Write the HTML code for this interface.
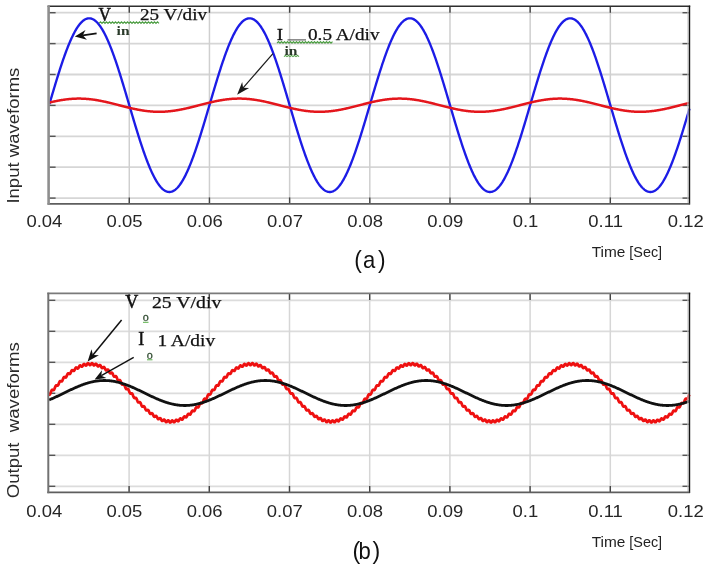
<!DOCTYPE html><html><head><meta charset="utf-8"><style>html,body{margin:0;padding:0;background:#fff;width:708px;height:570px;overflow:hidden}svg{display:block;filter:blur(0.3px)}</style></head><body>
<svg width="708" height="570" viewBox="0 0 708 570">
<rect width="708" height="570" fill="#fff"/>
<line x1="48.6" y1="12.7" x2="689.5" y2="12.7" stroke="#d6d6d6" stroke-width="1.8"/>
<line x1="48.6" y1="43.6" x2="689.5" y2="43.6" stroke="#d6d6d6" stroke-width="1.8"/>
<line x1="48.6" y1="74.5" x2="689.5" y2="74.5" stroke="#d6d6d6" stroke-width="1.8"/>
<line x1="48.6" y1="105.4" x2="689.5" y2="105.4" stroke="#d6d6d6" stroke-width="1.8"/>
<line x1="48.6" y1="136.3" x2="689.5" y2="136.3" stroke="#d6d6d6" stroke-width="1.8"/>
<line x1="48.6" y1="167.2" x2="689.5" y2="167.2" stroke="#d6d6d6" stroke-width="1.8"/>
<line x1="48.6" y1="198.1" x2="689.5" y2="198.1" stroke="#d6d6d6" stroke-width="1.8"/>
<line x1="129.28" y1="6.3" x2="129.28" y2="203.9" stroke="#cfcfcf" stroke-width="1.5"/>
<line x1="209.45" y1="6.3" x2="209.45" y2="203.9" stroke="#cfcfcf" stroke-width="1.5"/>
<line x1="289.62" y1="6.3" x2="289.62" y2="203.9" stroke="#cfcfcf" stroke-width="1.5"/>
<line x1="369.8" y1="6.3" x2="369.8" y2="203.9" stroke="#cfcfcf" stroke-width="1.5"/>
<line x1="449.98" y1="6.3" x2="449.98" y2="203.9" stroke="#cfcfcf" stroke-width="1.5"/>
<line x1="530.15" y1="6.3" x2="530.15" y2="203.9" stroke="#cfcfcf" stroke-width="1.5"/>
<line x1="610.33" y1="6.3" x2="610.33" y2="203.9" stroke="#cfcfcf" stroke-width="1.5"/>
<line x1="48.6" y1="12.7" x2="55.6" y2="12.7" stroke="#555" stroke-width="1.4"/>
<line x1="682.5" y1="12.7" x2="689.5" y2="12.7" stroke="#555" stroke-width="1.4"/>
<line x1="48.6" y1="43.6" x2="55.6" y2="43.6" stroke="#555" stroke-width="1.4"/>
<line x1="682.5" y1="43.6" x2="689.5" y2="43.6" stroke="#555" stroke-width="1.4"/>
<line x1="48.6" y1="74.5" x2="55.6" y2="74.5" stroke="#555" stroke-width="1.4"/>
<line x1="682.5" y1="74.5" x2="689.5" y2="74.5" stroke="#555" stroke-width="1.4"/>
<line x1="48.6" y1="105.4" x2="55.6" y2="105.4" stroke="#555" stroke-width="1.4"/>
<line x1="682.5" y1="105.4" x2="689.5" y2="105.4" stroke="#555" stroke-width="1.4"/>
<line x1="48.6" y1="136.3" x2="55.6" y2="136.3" stroke="#555" stroke-width="1.4"/>
<line x1="682.5" y1="136.3" x2="689.5" y2="136.3" stroke="#555" stroke-width="1.4"/>
<line x1="48.6" y1="167.2" x2="55.6" y2="167.2" stroke="#555" stroke-width="1.4"/>
<line x1="682.5" y1="167.2" x2="689.5" y2="167.2" stroke="#555" stroke-width="1.4"/>
<line x1="48.6" y1="198.1" x2="55.6" y2="198.1" stroke="#555" stroke-width="1.4"/>
<line x1="682.5" y1="198.1" x2="689.5" y2="198.1" stroke="#555" stroke-width="1.4"/>
<line x1="129.28" y1="197.4" x2="129.28" y2="203.9" stroke="#444" stroke-width="1.4"/>
<line x1="129.28" y1="6.3" x2="129.28" y2="12.8" stroke="#444" stroke-width="1.4"/>
<line x1="209.45" y1="197.4" x2="209.45" y2="203.9" stroke="#444" stroke-width="1.4"/>
<line x1="209.45" y1="6.3" x2="209.45" y2="12.8" stroke="#444" stroke-width="1.4"/>
<line x1="289.62" y1="197.4" x2="289.62" y2="203.9" stroke="#444" stroke-width="1.4"/>
<line x1="289.62" y1="6.3" x2="289.62" y2="12.8" stroke="#444" stroke-width="1.4"/>
<line x1="369.8" y1="197.4" x2="369.8" y2="203.9" stroke="#444" stroke-width="1.4"/>
<line x1="369.8" y1="6.3" x2="369.8" y2="12.8" stroke="#444" stroke-width="1.4"/>
<line x1="449.98" y1="197.4" x2="449.98" y2="203.9" stroke="#444" stroke-width="1.4"/>
<line x1="449.98" y1="6.3" x2="449.98" y2="12.8" stroke="#444" stroke-width="1.4"/>
<line x1="530.15" y1="197.4" x2="530.15" y2="203.9" stroke="#444" stroke-width="1.4"/>
<line x1="530.15" y1="6.3" x2="530.15" y2="12.8" stroke="#444" stroke-width="1.4"/>
<line x1="610.33" y1="197.4" x2="610.33" y2="203.9" stroke="#444" stroke-width="1.4"/>
<line x1="610.33" y1="6.3" x2="610.33" y2="12.8" stroke="#444" stroke-width="1.4"/>
<line x1="48.3" y1="300.3" x2="689.5" y2="300.3" stroke="#dcdcdc" stroke-width="1.8"/>
<line x1="48.3" y1="331.3" x2="689.5" y2="331.3" stroke="#dcdcdc" stroke-width="1.8"/>
<line x1="48.3" y1="362.3" x2="689.5" y2="362.3" stroke="#dcdcdc" stroke-width="1.8"/>
<line x1="48.3" y1="393.3" x2="689.5" y2="393.3" stroke="#dcdcdc" stroke-width="1.8"/>
<line x1="48.3" y1="424.3" x2="689.5" y2="424.3" stroke="#dcdcdc" stroke-width="1.8"/>
<line x1="48.3" y1="455.3" x2="689.5" y2="455.3" stroke="#dcdcdc" stroke-width="1.8"/>
<line x1="48.3" y1="486.3" x2="689.5" y2="486.3" stroke="#dcdcdc" stroke-width="1.8"/>
<line x1="129.1" y1="293.4" x2="129.1" y2="492.4" stroke="#d6d6d6" stroke-width="1.5"/>
<line x1="209.3" y1="293.4" x2="209.3" y2="492.4" stroke="#d6d6d6" stroke-width="1.5"/>
<line x1="289.5" y1="293.4" x2="289.5" y2="492.4" stroke="#d6d6d6" stroke-width="1.5"/>
<line x1="369.7" y1="293.4" x2="369.7" y2="492.4" stroke="#d6d6d6" stroke-width="1.5"/>
<line x1="449.9" y1="293.4" x2="449.9" y2="492.4" stroke="#d6d6d6" stroke-width="1.5"/>
<line x1="530.1" y1="293.4" x2="530.1" y2="492.4" stroke="#d6d6d6" stroke-width="1.5"/>
<line x1="610.3" y1="293.4" x2="610.3" y2="492.4" stroke="#d6d6d6" stroke-width="1.5"/>
<line x1="48.3" y1="300.3" x2="55.3" y2="300.3" stroke="#555" stroke-width="1.4"/>
<line x1="682.5" y1="300.3" x2="689.5" y2="300.3" stroke="#555" stroke-width="1.4"/>
<line x1="48.3" y1="331.3" x2="55.3" y2="331.3" stroke="#555" stroke-width="1.4"/>
<line x1="682.5" y1="331.3" x2="689.5" y2="331.3" stroke="#555" stroke-width="1.4"/>
<line x1="48.3" y1="362.3" x2="55.3" y2="362.3" stroke="#555" stroke-width="1.4"/>
<line x1="682.5" y1="362.3" x2="689.5" y2="362.3" stroke="#555" stroke-width="1.4"/>
<line x1="48.3" y1="393.3" x2="55.3" y2="393.3" stroke="#555" stroke-width="1.4"/>
<line x1="682.5" y1="393.3" x2="689.5" y2="393.3" stroke="#555" stroke-width="1.4"/>
<line x1="48.3" y1="424.3" x2="55.3" y2="424.3" stroke="#555" stroke-width="1.4"/>
<line x1="682.5" y1="424.3" x2="689.5" y2="424.3" stroke="#555" stroke-width="1.4"/>
<line x1="48.3" y1="455.3" x2="55.3" y2="455.3" stroke="#555" stroke-width="1.4"/>
<line x1="682.5" y1="455.3" x2="689.5" y2="455.3" stroke="#555" stroke-width="1.4"/>
<line x1="48.3" y1="486.3" x2="55.3" y2="486.3" stroke="#555" stroke-width="1.4"/>
<line x1="682.5" y1="486.3" x2="689.5" y2="486.3" stroke="#555" stroke-width="1.4"/>
<line x1="129.1" y1="485.9" x2="129.1" y2="492.4" stroke="#444" stroke-width="1.4"/>
<line x1="129.1" y1="293.4" x2="129.1" y2="299.9" stroke="#444" stroke-width="1.4"/>
<line x1="209.3" y1="485.9" x2="209.3" y2="492.4" stroke="#444" stroke-width="1.4"/>
<line x1="209.3" y1="293.4" x2="209.3" y2="299.9" stroke="#444" stroke-width="1.4"/>
<line x1="289.5" y1="485.9" x2="289.5" y2="492.4" stroke="#444" stroke-width="1.4"/>
<line x1="289.5" y1="293.4" x2="289.5" y2="299.9" stroke="#444" stroke-width="1.4"/>
<line x1="369.7" y1="485.9" x2="369.7" y2="492.4" stroke="#444" stroke-width="1.4"/>
<line x1="369.7" y1="293.4" x2="369.7" y2="299.9" stroke="#444" stroke-width="1.4"/>
<line x1="449.9" y1="485.9" x2="449.9" y2="492.4" stroke="#444" stroke-width="1.4"/>
<line x1="449.9" y1="293.4" x2="449.9" y2="299.9" stroke="#444" stroke-width="1.4"/>
<line x1="530.1" y1="485.9" x2="530.1" y2="492.4" stroke="#444" stroke-width="1.4"/>
<line x1="530.1" y1="293.4" x2="530.1" y2="299.9" stroke="#444" stroke-width="1.4"/>
<line x1="610.3" y1="485.9" x2="610.3" y2="492.4" stroke="#444" stroke-width="1.4"/>
<line x1="610.3" y1="293.4" x2="610.3" y2="299.9" stroke="#444" stroke-width="1.4"/>
<path d="M49.4 104.13 L49.9 102.43 L50.4 100.73 L50.9 99.03 L51.4 97.33 L51.9 95.64 L52.4 93.95 L52.9 92.27 L53.4 90.59 L53.9 88.91 L54.4 87.24 L54.9 85.58 L55.4 83.93 L55.9 82.28 L56.4 80.64 L56.9 79.02 L57.4 77.4 L57.9 75.79 L58.4 74.2 L58.9 72.61 L59.4 71.04 L59.9 69.48 L60.4 67.94 L60.9 66.41 L61.4 64.89 L61.9 63.39 L62.4 61.91 L62.9 60.44 L63.4 58.99 L63.9 57.56 L64.4 56.15 L64.9 54.75 L65.4 53.37 L65.9 52.02 L66.4 50.68 L66.9 49.37 L67.4 48.07 L67.9 46.8 L68.4 45.55 L68.9 44.33 L69.4 43.12 L69.9 41.95 L70.4 40.79 L70.9 39.66 L71.4 38.56 L71.9 37.48 L72.4 36.42 L72.9 35.4 L73.4 34.4 L73.9 33.42 L74.4 32.48 L74.9 31.56 L75.4 30.67 L75.9 29.81 L76.4 28.98 L76.9 28.17 L77.4 27.4 L77.9 26.66 L78.4 25.94 L78.9 25.26 L79.4 24.61 L79.9 23.99 L80.4 23.4 L80.9 22.84 L81.4 22.31 L81.9 21.82 L82.4 21.35 L82.9 20.92 L83.4 20.52 L83.9 20.16 L84.4 19.82 L84.9 19.52 L85.4 19.25 L85.9 19.02 L86.4 18.82 L86.9 18.65 L87.4 18.51 L87.9 18.41 L88.4 18.34 L88.9 18.31 L89.4 18.3 L89.9 18.33 L90.4 18.4 L90.9 18.5 L91.4 18.63 L91.9 18.79 L92.4 18.99 L92.9 19.22 L93.4 19.48 L93.9 19.78 L94.4 20.11 L94.9 20.47 L95.4 20.86 L95.9 21.29 L96.4 21.75 L96.9 22.24 L97.4 22.76 L97.9 23.31 L98.4 23.9 L98.9 24.51 L99.4 25.16 L99.9 25.84 L100.4 26.55 L100.9 27.29 L101.4 28.06 L101.9 28.85 L102.4 29.68 L102.9 30.54 L103.4 31.42 L103.9 32.34 L104.4 33.28 L104.9 34.25 L105.4 35.24 L105.9 36.27 L106.4 37.32 L106.9 38.39 L107.4 39.49 L107.9 40.62 L108.4 41.77 L108.9 42.95 L109.4 44.15 L109.9 45.37 L110.4 46.61 L110.9 47.88 L111.4 49.17 L111.9 50.48 L112.4 51.82 L112.9 53.17 L113.4 54.54 L113.9 55.93 L114.4 57.35 L114.9 58.78 L115.4 60.22 L115.9 61.69 L116.4 63.17 L116.9 64.67 L117.4 66.18 L117.9 67.71 L118.4 69.25 L118.9 70.81 L119.4 72.38 L119.9 73.96 L120.4 75.55 L120.9 77.16 L121.4 78.77 L121.9 80.4 L122.4 82.04 L122.9 83.68 L123.4 85.33 L123.9 86.99 L124.4 88.66 L124.9 90.33 L125.4 92.01 L125.9 93.7 L126.4 95.39 L126.9 97.08 L127.4 98.77 L127.9 100.47 L128.4 102.17 L128.9 103.87 L129.4 105.58 L129.9 107.28 L130.4 108.98 L130.9 110.68 L131.4 112.37 L131.9 114.07 L132.4 115.76 L132.9 117.44 L133.4 119.13 L133.9 120.8 L134.4 122.47 L134.9 124.14 L135.4 125.79 L135.9 127.44 L136.4 129.08 L136.9 130.71 L137.4 132.34 L137.9 133.95 L138.4 135.55 L138.9 137.13 L139.4 138.71 L139.9 140.27 L140.4 141.82 L140.9 143.36 L141.4 144.88 L141.9 146.38 L142.4 147.87 L142.9 149.35 L143.4 150.8 L143.9 152.24 L144.4 153.66 L144.9 155.06 L145.4 156.45 L145.9 157.81 L146.4 159.15 L146.9 160.47 L147.4 161.78 L147.9 163.06 L148.4 164.31 L148.9 165.55 L149.4 166.76 L149.9 167.94 L150.4 169.11 L150.9 170.25 L151.4 171.36 L151.9 172.45 L152.4 173.51 L152.9 174.55 L153.4 175.56 L153.9 176.54 L154.4 177.5 L154.9 178.42 L155.4 179.32 L155.9 180.19 L156.4 181.04 L156.9 181.85 L157.4 182.63 L157.9 183.39 L158.4 184.11 L158.9 184.8 L159.4 185.47 L159.9 186.1 L160.4 186.7 L160.9 187.27 L161.4 187.81 L161.9 188.31 L162.4 188.79 L162.9 189.23 L163.4 189.64 L163.9 190.02 L164.4 190.36 L164.9 190.68 L165.4 190.96 L165.9 191.2 L166.4 191.42 L166.9 191.6 L167.4 191.74 L167.9 191.86 L168.4 191.94 L168.9 191.99 L169.4 192 L169.9 191.98 L170.4 191.93 L170.9 191.84 L171.4 191.72 L171.9 191.57 L172.4 191.39 L172.9 191.17 L173.4 190.92 L173.9 190.63 L174.4 190.31 L174.9 189.96 L175.4 189.58 L175.9 189.17 L176.4 188.72 L176.9 188.24 L177.4 187.73 L177.9 187.19 L178.4 186.61 L178.9 186.01 L179.4 185.37 L179.9 184.7 L180.4 184 L180.9 183.27 L181.4 182.52 L181.9 181.73 L182.4 180.91 L182.9 180.06 L183.4 179.19 L183.9 178.29 L184.4 177.35 L184.9 176.39 L185.4 175.41 L185.9 174.39 L186.4 173.35 L186.9 172.29 L187.4 171.2 L187.9 170.08 L188.4 168.94 L188.9 167.77 L189.4 166.58 L189.9 165.36 L190.4 164.12 L190.9 162.86 L191.4 161.58 L191.9 160.28 L192.4 158.95 L192.9 157.61 L193.4 156.24 L193.9 154.85 L194.4 153.45 L194.9 152.03 L195.4 150.59 L195.9 149.13 L196.4 147.65 L196.9 146.16 L197.4 144.65 L197.9 143.13 L198.4 141.59 L198.9 140.04 L199.4 138.47 L199.9 136.9 L200.4 135.31 L200.9 133.71 L201.4 132.09 L201.9 130.47 L202.4 128.84 L202.9 127.2 L203.4 125.55 L203.9 123.89 L204.4 122.22 L204.9 120.55 L205.4 118.87 L205.9 117.19 L206.4 115.5 L206.9 113.81 L207.4 112.12 L207.9 110.42 L208.4 108.72 L208.9 107.02 L209.4 105.32 L209.9 103.62 L210.4 101.92 L210.9 100.22 L211.4 98.52 L211.9 96.83 L212.4 95.13 L212.9 93.44 L213.4 91.76 L213.9 90.08 L214.4 88.41 L214.9 86.74 L215.4 85.08 L215.9 83.43 L216.4 81.79 L216.9 80.16 L217.4 78.53 L217.9 76.92 L218.4 75.31 L218.9 73.72 L219.4 72.14 L219.9 70.57 L220.4 69.02 L220.9 67.48 L221.4 65.95 L221.9 64.44 L222.4 62.95 L222.9 61.47 L223.4 60.01 L223.9 58.56 L224.4 57.13 L224.9 55.72 L225.4 54.34 L225.9 52.97 L226.4 51.62 L226.9 50.29 L227.4 48.98 L227.9 47.69 L228.4 46.43 L228.9 45.18 L229.4 43.96 L229.9 42.77 L230.4 41.6 L230.9 40.45 L231.4 39.33 L231.9 38.23 L232.4 37.16 L232.9 36.11 L233.4 35.09 L233.9 34.1 L234.4 33.14 L234.9 32.2 L235.4 31.29 L235.9 30.41 L236.4 29.56 L236.9 28.73 L237.4 27.94 L237.9 27.17 L238.4 26.44 L238.9 25.74 L239.4 25.06 L239.9 24.42 L240.4 23.81 L240.9 23.23 L241.4 22.68 L241.9 22.16 L242.4 21.67 L242.9 21.22 L243.4 20.8 L243.9 20.41 L244.4 20.05 L244.9 19.73 L245.4 19.44 L245.9 19.18 L246.4 18.96 L246.9 18.76 L247.4 18.6 L247.9 18.48 L248.4 18.39 L248.9 18.33 L249.4 18.3 L249.9 18.31 L250.4 18.35 L250.9 18.42 L251.4 18.53 L251.9 18.67 L252.4 18.85 L252.9 19.05 L253.4 19.29 L253.9 19.57 L254.4 19.87 L254.9 20.21 L255.4 20.58 L255.9 20.99 L256.4 21.42 L256.9 21.89 L257.4 22.39 L257.9 22.92 L258.4 23.48 L258.9 24.08 L259.4 24.71 L259.9 25.36 L260.4 26.05 L260.9 26.77 L261.4 27.51 L261.9 28.29 L262.4 29.1 L262.9 29.94 L263.4 30.8 L263.9 31.69 L264.4 32.62 L264.9 33.57 L265.4 34.54 L265.9 35.55 L266.4 36.58 L266.9 37.64 L267.4 38.72 L267.9 39.83 L268.4 40.96 L268.9 42.12 L269.4 43.3 L269.9 44.51 L270.4 45.74 L270.9 46.99 L271.4 48.27 L271.9 49.56 L272.4 50.88 L272.9 52.22 L273.4 53.58 L273.9 54.96 L274.4 56.36 L274.9 57.77 L275.4 59.21 L275.9 60.66 L276.4 62.13 L276.9 63.62 L277.4 65.12 L277.9 66.64 L278.4 68.17 L278.9 69.72 L279.4 71.28 L279.9 72.85 L280.4 74.44 L280.9 76.03 L281.4 77.64 L281.9 79.26 L282.4 80.89 L282.9 82.53 L283.4 84.17 L283.9 85.83 L284.4 87.49 L284.9 89.16 L285.4 90.84 L285.9 92.52 L286.4 94.2 L286.9 95.89 L287.4 97.59 L287.9 99.28 L288.4 100.98 L288.9 102.68 L289.4 104.38 L289.9 106.09 L290.4 107.79 L290.9 109.49 L291.4 111.19 L291.9 112.88 L292.4 114.58 L292.9 116.26 L293.4 117.95 L293.9 119.63 L294.4 121.31 L294.9 122.97 L295.4 124.64 L295.9 126.29 L296.4 127.94 L296.9 129.57 L297.4 131.2 L297.9 132.82 L298.4 134.43 L298.9 136.02 L299.4 137.61 L299.9 139.18 L300.4 140.74 L300.9 142.28 L301.4 143.82 L301.9 145.33 L302.4 146.83 L302.9 148.32 L303.4 149.78 L303.9 151.24 L304.4 152.67 L304.9 154.08 L305.4 155.48 L305.9 156.86 L306.4 158.21 L306.9 159.55 L307.4 160.87 L307.9 162.16 L308.4 163.43 L308.9 164.68 L309.4 165.91 L309.9 167.12 L310.4 168.3 L310.9 169.45 L311.4 170.58 L311.9 171.69 L312.4 172.77 L312.9 173.83 L313.4 174.85 L313.9 175.86 L314.4 176.83 L314.9 177.78 L315.4 178.7 L315.9 179.59 L316.4 180.45 L316.9 181.28 L317.4 182.09 L317.9 182.86 L318.4 183.61 L318.9 184.32 L319.4 185.01 L319.9 185.66 L320.4 186.28 L320.9 186.87 L321.4 187.43 L321.9 187.96 L322.4 188.46 L322.9 188.92 L323.4 189.36 L323.9 189.76 L324.4 190.13 L324.9 190.46 L325.4 190.76 L325.9 191.03 L326.4 191.27 L326.9 191.47 L327.4 191.64 L327.9 191.78 L328.4 191.89 L328.9 191.96 L329.4 191.99 L329.9 192 L330.4 191.97 L330.9 191.91 L331.4 191.81 L331.9 191.68 L332.4 191.52 L332.9 191.32 L333.4 191.09 L333.9 190.83 L334.4 190.54 L334.9 190.21 L335.4 189.85 L335.9 189.46 L336.4 189.04 L336.9 188.58 L337.4 188.09 L337.9 187.57 L338.4 187.02 L338.9 186.43 L339.4 185.82 L339.9 185.17 L340.4 184.49 L340.9 183.79 L341.4 183.05 L341.9 182.28 L342.4 181.49 L342.9 180.66 L343.4 179.81 L343.9 178.92 L344.4 178.01 L344.9 177.07 L345.4 176.1 L345.9 175.11 L346.4 174.09 L346.9 173.04 L347.4 171.96 L347.9 170.86 L348.4 169.74 L348.9 168.59 L349.4 167.41 L349.9 166.22 L350.4 164.99 L350.9 163.75 L351.4 162.48 L351.9 161.19 L352.4 159.88 L352.9 158.55 L353.4 157.2 L353.9 155.83 L354.4 154.44 L354.9 153.02 L355.4 151.6 L355.9 150.15 L356.4 148.69 L356.9 147.2 L357.4 145.71 L357.9 144.2 L358.4 142.67 L358.9 141.13 L359.4 139.57 L359.9 138 L360.4 136.42 L360.9 134.83 L361.4 133.22 L361.9 131.61 L362.4 129.98 L362.9 128.35 L363.4 126.7 L363.9 125.05 L364.4 123.39 L364.9 121.72 L365.4 120.05 L365.9 118.37 L366.4 116.69 L366.9 115 L367.4 113.31 L367.9 111.61 L368.4 109.91 L368.9 108.21 L369.4 106.51 L369.9 104.81 L370.4 103.11 L370.9 101.41 L371.4 99.71 L371.9 98.01 L372.4 96.32 L372.9 94.63 L373.4 92.94 L373.9 91.26 L374.4 89.58 L374.9 87.91 L375.4 86.24 L375.9 84.59 L376.4 82.94 L376.9 81.3 L377.4 79.67 L377.9 78.04 L378.4 76.43 L378.9 74.83 L379.4 73.24 L379.9 71.67 L380.4 70.1 L380.9 68.55 L381.4 67.02 L381.9 65.5 L382.4 63.99 L382.9 62.5 L383.4 61.03 L383.9 59.57 L384.4 58.13 L384.9 56.71 L385.4 55.31 L385.9 53.92 L386.4 52.56 L386.9 51.21 L387.4 49.89 L387.9 48.59 L388.4 47.31 L388.9 46.05 L389.4 44.81 L389.9 43.6 L390.4 42.41 L390.9 41.25 L391.4 40.11 L391.9 38.99 L392.4 37.9 L392.9 36.84 L393.4 35.8 L393.9 34.79 L394.4 33.81 L394.9 32.85 L395.4 31.92 L395.9 31.02 L396.4 30.15 L396.9 29.31 L397.4 28.49 L397.9 27.71 L398.4 26.95 L398.9 26.23 L399.4 25.53 L399.9 24.87 L400.4 24.23 L400.9 23.63 L401.4 23.06 L401.9 22.52 L402.4 22.01 L402.9 21.54 L403.4 21.09 L403.9 20.68 L404.4 20.3 L404.9 19.95 L405.4 19.64 L405.9 19.36 L406.4 19.11 L406.9 18.89 L407.4 18.71 L407.9 18.56 L408.4 18.45 L408.9 18.37 L409.4 18.32 L409.9 18.3 L410.4 18.32 L410.9 18.37 L411.4 18.45 L411.9 18.57 L412.4 18.72 L412.9 18.9 L413.4 19.12 L413.9 19.37 L414.4 19.65 L414.9 19.97 L415.4 20.32 L415.9 20.7 L416.4 21.11 L416.9 21.56 L417.4 22.04 L417.9 22.55 L418.4 23.09 L418.9 23.66 L419.4 24.26 L419.9 24.9 L420.4 25.56 L420.9 26.26 L421.4 26.99 L421.9 27.74 L422.4 28.53 L422.9 29.35 L423.4 30.19 L423.9 31.07 L424.4 31.97 L424.9 32.9 L425.4 33.86 L425.9 34.84 L426.4 35.85 L426.9 36.89 L427.4 37.96 L427.9 39.05 L428.4 40.17 L428.9 41.31 L429.4 42.47 L429.9 43.66 L430.4 44.88 L430.9 46.11 L431.4 47.37 L431.9 48.65 L432.4 49.96 L432.9 51.28 L433.4 52.63 L433.9 53.99 L434.4 55.38 L434.9 56.78 L435.4 58.2 L435.9 59.64 L436.4 61.1 L436.9 62.58 L437.4 64.07 L437.9 65.57 L438.4 67.1 L438.9 68.63 L439.4 70.18 L439.9 71.75 L440.4 73.32 L440.9 74.91 L441.4 76.51 L441.9 78.13 L442.4 79.75 L442.9 81.38 L443.4 83.02 L443.9 84.67 L444.4 86.33 L444.9 87.99 L445.4 89.66 L445.9 91.34 L446.4 93.02 L446.9 94.71 L447.4 96.4 L447.9 98.1 L448.4 99.79 L448.9 101.49 L449.4 103.19 L449.9 104.89 L450.4 106.6 L450.9 108.3 L451.4 110 L451.9 111.69 L452.4 113.39 L452.9 115.08 L453.4 116.77 L453.9 118.45 L454.4 120.13 L454.9 121.81 L455.4 123.47 L455.9 125.13 L456.4 126.78 L456.9 128.43 L457.4 130.06 L457.9 131.69 L458.4 133.3 L458.9 134.91 L459.4 136.5 L459.9 138.08 L460.4 139.65 L460.9 141.2 L461.4 142.75 L461.9 144.27 L462.4 145.78 L462.9 147.28 L463.4 148.76 L463.9 150.22 L464.4 151.67 L464.9 153.1 L465.4 154.51 L465.9 155.9 L466.4 157.27 L466.9 158.62 L467.4 159.95 L467.9 161.26 L468.4 162.55 L468.9 163.81 L469.4 165.06 L469.9 166.28 L470.4 167.47 L470.9 168.65 L471.4 169.79 L471.9 170.92 L472.4 172.02 L472.9 173.09 L473.4 174.14 L473.9 175.16 L474.4 176.15 L474.9 177.12 L475.4 178.06 L475.9 178.97 L476.4 179.85 L476.9 180.7 L477.4 181.53 L477.9 182.32 L478.4 183.09 L478.9 183.82 L479.4 184.53 L479.9 185.2 L480.4 185.85 L480.9 186.46 L481.4 187.04 L481.9 187.6 L482.4 188.11 L482.9 188.6 L483.4 189.06 L483.9 189.48 L484.4 189.87 L484.9 190.23 L485.4 190.55 L485.9 190.85 L486.4 191.11 L486.9 191.33 L487.4 191.53 L487.9 191.69 L488.4 191.82 L488.9 191.91 L489.4 191.97 L489.9 192 L490.4 191.99 L490.9 191.95 L491.4 191.88 L491.9 191.77 L492.4 191.64 L492.9 191.46 L493.4 191.26 L493.9 191.02 L494.4 190.75 L494.9 190.44 L495.4 190.11 L495.9 189.74 L496.4 189.34 L496.9 188.9 L497.4 188.43 L497.9 187.94 L498.4 187.41 L498.9 186.84 L499.4 186.25 L499.9 185.63 L500.4 184.97 L500.9 184.29 L501.4 183.57 L501.9 182.82 L502.4 182.05 L502.9 181.24 L503.4 180.41 L503.9 179.54 L504.4 178.65 L504.9 177.73 L505.4 176.78 L505.9 175.81 L506.4 174.8 L506.9 173.77 L507.4 172.72 L507.9 171.64 L508.4 170.53 L508.9 169.4 L509.4 168.24 L509.9 167.06 L510.4 165.85 L510.9 164.62 L511.4 163.37 L511.9 162.1 L512.4 160.8 L512.9 159.49 L513.4 158.15 L513.9 156.79 L514.4 155.41 L514.9 154.01 L515.4 152.6 L515.9 151.16 L516.4 149.71 L516.9 148.24 L517.4 146.76 L517.9 145.26 L518.4 143.74 L518.9 142.21 L519.4 140.66 L519.9 139.1 L520.4 137.53 L520.9 135.94 L521.4 134.35 L521.9 132.74 L522.4 131.12 L522.9 129.49 L523.4 127.85 L523.9 126.21 L524.4 124.55 L524.9 122.89 L525.4 121.22 L525.9 119.55 L526.4 117.87 L526.9 116.18 L527.4 114.49 L527.9 112.8 L528.4 111.1 L528.9 109.4 L529.4 107.7 L529.9 106 L530.4 104.3 L530.9 102.6 L531.4 100.9 L531.9 99.2 L532.4 97.5 L532.9 95.81 L533.4 94.12 L533.9 92.43 L534.4 90.75 L534.9 89.08 L535.4 87.41 L535.9 85.75 L536.4 84.09 L536.9 82.45 L537.4 80.81 L537.9 79.18 L538.4 77.56 L538.9 75.95 L539.4 74.36 L539.9 72.77 L540.4 71.2 L540.9 69.64 L541.4 68.09 L541.9 66.56 L542.4 65.04 L542.9 63.54 L543.4 62.06 L543.9 60.59 L544.4 59.14 L544.9 57.7 L545.4 56.29 L545.9 54.89 L546.4 53.51 L546.9 52.15 L547.4 50.81 L547.9 49.5 L548.4 48.2 L548.9 46.93 L549.4 45.68 L549.9 44.45 L550.4 43.24 L550.9 42.06 L551.4 40.9 L551.9 39.77 L552.4 38.66 L552.9 37.58 L553.4 36.53 L553.9 35.5 L554.4 34.49 L554.9 33.52 L555.4 32.57 L555.9 31.65 L556.4 30.76 L556.9 29.89 L557.4 29.06 L557.9 28.25 L558.4 27.48 L558.9 26.73 L559.4 26.01 L559.9 25.33 L560.4 24.67 L560.9 24.05 L561.4 23.46 L561.9 22.89 L562.4 22.36 L562.9 21.87 L563.4 21.4 L563.9 20.96 L564.4 20.56 L564.9 20.19 L565.4 19.86 L565.9 19.55 L566.4 19.28 L566.9 19.04 L567.4 18.84 L567.9 18.66 L568.4 18.53 L568.9 18.42 L569.4 18.35 L569.9 18.31 L570.4 18.3 L570.9 18.33 L571.4 18.39 L571.9 18.48 L572.4 18.61 L572.9 18.77 L573.4 18.97 L573.9 19.19 L574.4 19.45 L574.9 19.75 L575.4 20.07 L575.9 20.43 L576.4 20.82 L576.9 21.24 L577.4 21.7 L577.9 22.19 L578.4 22.7 L578.9 23.26 L579.4 23.84 L579.9 24.45 L580.4 25.1 L580.9 25.77 L581.4 26.48 L581.9 27.21 L582.4 27.98 L582.9 28.77 L583.4 29.6 L583.9 30.45 L584.4 31.33 L584.9 32.24 L585.4 33.18 L585.9 34.15 L586.4 35.14 L586.9 36.16 L587.4 37.21 L587.9 38.28 L588.4 39.38 L588.9 40.51 L589.4 41.65 L589.9 42.83 L590.4 44.02 L590.9 45.24 L591.4 46.49 L591.9 47.75 L592.4 49.04 L592.9 50.35 L593.4 51.68 L593.9 53.03 L594.4 54.4 L594.9 55.79 L595.4 57.2 L595.9 58.63 L596.4 60.08 L596.9 61.54 L597.4 63.02 L597.9 64.52 L598.4 66.03 L598.9 67.55 L599.4 69.1 L599.9 70.65 L600.4 72.22 L600.9 73.8 L601.4 75.39 L601.9 77 L602.4 78.61 L602.9 80.24 L603.4 81.87 L603.9 83.52 L604.4 85.17 L604.9 86.83 L605.4 88.49 L605.9 90.17 L606.4 91.85 L606.9 93.53 L607.4 95.22 L607.9 96.91 L608.4 98.61 L608.9 100.3 L609.4 102 L609.9 103.7 L610.4 105.41 L610.9 107.11 L611.4 108.81 L611.9 110.51 L612.4 112.2 L612.9 113.9 L613.4 115.59 L613.9 117.28 L614.4 118.96 L614.9 120.64 L615.4 122.31 L615.9 123.97 L616.4 125.63 L616.9 127.28 L617.4 128.92 L617.9 130.55 L618.4 132.17 L618.9 133.79 L619.4 135.39 L619.9 136.98 L620.4 138.55 L620.9 140.12 L621.4 141.67 L621.9 143.2 L622.4 144.73 L622.9 146.23 L623.4 147.72 L623.9 149.2 L624.4 150.66 L624.9 152.1 L625.4 153.52 L625.9 154.92 L626.4 156.31 L626.9 157.67 L627.4 159.02 L627.9 160.34 L628.4 161.65 L628.9 162.93 L629.4 164.19 L629.9 165.42 L630.4 166.64 L630.9 167.83 L631.4 168.99 L631.9 170.13 L632.4 171.25 L632.9 172.34 L633.4 173.41 L633.9 174.45 L634.4 175.46 L634.9 176.44 L635.4 177.4 L635.9 178.33 L636.4 179.23 L636.9 180.11 L637.4 180.95 L637.9 181.77 L638.4 182.56 L638.9 183.31 L639.4 184.04 L639.9 184.74 L640.4 185.4 L640.9 186.04 L641.4 186.64 L641.9 187.21 L642.4 187.75 L642.9 188.26 L643.4 188.74 L643.9 189.19 L644.4 189.6 L644.9 189.98 L645.4 190.33 L645.9 190.65 L646.4 190.93 L646.9 191.18 L647.4 191.4 L647.9 191.58 L648.4 191.73 L648.9 191.85 L649.4 191.93 L649.9 191.98 L650.4 192 L650.9 191.98 L651.4 191.93 L651.9 191.85 L652.4 191.74 L652.9 191.59 L653.4 191.41 L653.9 191.19 L654.4 190.94 L654.9 190.66 L655.4 190.35 L655.9 190 L656.4 189.62 L656.9 189.21 L657.4 188.76 L657.9 188.29 L658.4 187.78 L658.9 187.24 L659.4 186.67 L659.9 186.07 L660.4 185.43 L660.9 184.77 L661.4 184.07 L661.9 183.35 L662.4 182.59 L662.9 181.81 L663.4 180.99 L663.9 180.15 L664.4 179.28 L664.9 178.38 L665.4 177.45 L665.9 176.49 L666.4 175.51 L666.9 174.5 L667.4 173.46 L667.9 172.4 L668.4 171.31 L668.9 170.19 L669.4 169.05 L669.9 167.89 L670.4 166.7 L670.9 165.49 L671.4 164.25 L671.9 162.99 L672.4 161.71 L672.9 160.41 L673.4 159.09 L673.9 157.74 L674.4 156.38 L674.9 154.99 L675.4 153.59 L675.9 152.17 L676.4 150.73 L676.9 149.27 L677.4 147.8 L677.9 146.31 L678.4 144.8 L678.9 143.28 L679.4 141.75 L679.9 140.2 L680.4 138.63 L680.9 137.06 L681.4 135.47 L681.9 133.87 L682.4 132.26 L682.9 130.63 L683.4 129 L683.9 127.36 L684.4 125.71 L684.9 124.06 L685.4 122.39 L685.9 120.72 L686.4 119.04 L686.9 117.36 L687.4 115.67 L687.9 113.98 L688.4 112.29 L688.9 110.59 L689.4 108.89 L689.5 108.55" fill="none" stroke="#1c1ce6" stroke-width="2.35" stroke-linejoin="round"/>
<path d="M49.4 102.55 L49.9 102.43 L50.4 102.32 L50.9 102.2 L51.4 102.08 L51.9 101.97 L52.4 101.86 L52.9 101.75 L53.4 101.64 L53.9 101.53 L54.4 101.42 L54.9 101.32 L55.4 101.21 L55.9 101.11 L56.4 101.01 L56.9 100.91 L57.4 100.82 L57.9 100.72 L58.4 100.63 L58.9 100.53 L59.4 100.44 L59.9 100.35 L60.4 100.27 L60.9 100.18 L61.4 100.1 L61.9 100.02 L62.4 99.94 L62.9 99.86 L63.4 99.79 L63.9 99.71 L64.4 99.64 L64.9 99.57 L65.4 99.51 L65.9 99.44 L66.4 99.38 L66.9 99.32 L67.4 99.26 L67.9 99.21 L68.4 99.16 L68.9 99.1 L69.4 99.06 L69.9 99.01 L70.4 98.97 L70.9 98.93 L71.4 98.89 L71.9 98.85 L72.4 98.82 L72.9 98.78 L73.4 98.76 L73.9 98.73 L74.4 98.7 L74.9 98.68 L75.4 98.66 L75.9 98.65 L76.4 98.63 L76.9 98.62 L77.4 98.61 L77.9 98.61 L78.4 98.6 L78.9 98.6 L79.4 98.6 L79.9 98.6 L80.4 98.61 L80.9 98.62 L81.4 98.63 L81.9 98.64 L82.4 98.66 L82.9 98.68 L83.4 98.7 L83.9 98.72 L84.4 98.75 L84.9 98.78 L85.4 98.81 L85.9 98.84 L86.4 98.88 L86.9 98.92 L87.4 98.96 L87.9 99 L88.4 99.05 L88.9 99.1 L89.4 99.15 L89.9 99.2 L90.4 99.25 L90.9 99.31 L91.4 99.37 L91.9 99.43 L92.4 99.5 L92.9 99.56 L93.4 99.63 L93.9 99.7 L94.4 99.77 L94.9 99.85 L95.4 99.93 L95.9 100 L96.4 100.08 L96.9 100.17 L97.4 100.25 L97.9 100.34 L98.4 100.43 L98.9 100.52 L99.4 100.61 L99.9 100.7 L100.4 100.8 L100.9 100.9 L101.4 100.99 L101.9 101.1 L102.4 101.2 L102.9 101.3 L103.4 101.41 L103.9 101.51 L104.4 101.62 L104.9 101.73 L105.4 101.84 L105.9 101.95 L106.4 102.07 L106.9 102.18 L107.4 102.3 L107.9 102.41 L108.4 102.53 L108.9 102.65 L109.4 102.77 L109.9 102.89 L110.4 103.01 L110.9 103.13 L111.4 103.26 L111.9 103.38 L112.4 103.5 L112.9 103.63 L113.4 103.76 L113.9 103.88 L114.4 104.01 L114.9 104.14 L115.4 104.26 L115.9 104.39 L116.4 104.52 L116.9 104.65 L117.4 104.78 L117.9 104.91 L118.4 105.04 L118.9 105.17 L119.4 105.3 L119.9 105.42 L120.4 105.55 L120.9 105.68 L121.4 105.81 L121.9 105.94 L122.4 106.07 L122.9 106.2 L123.4 106.32 L123.9 106.45 L124.4 106.58 L124.9 106.7 L125.4 106.83 L125.9 106.96 L126.4 107.08 L126.9 107.2 L127.4 107.33 L127.9 107.45 L128.4 107.57 L128.9 107.69 L129.4 107.81 L129.9 107.93 L130.4 108.04 L130.9 108.16 L131.4 108.28 L131.9 108.39 L132.4 108.5 L132.9 108.61 L133.4 108.72 L133.9 108.83 L134.4 108.94 L134.9 109.04 L135.4 109.15 L135.9 109.25 L136.4 109.35 L136.9 109.45 L137.4 109.55 L137.9 109.65 L138.4 109.74 L138.9 109.83 L139.4 109.93 L139.9 110.02 L140.4 110.1 L140.9 110.19 L141.4 110.27 L141.9 110.35 L142.4 110.43 L142.9 110.51 L143.4 110.59 L143.9 110.66 L144.4 110.73 L144.9 110.8 L145.4 110.87 L145.9 110.93 L146.4 111 L146.9 111.06 L147.4 111.12 L147.9 111.17 L148.4 111.23 L148.9 111.28 L149.4 111.33 L149.9 111.37 L150.4 111.42 L150.9 111.46 L151.4 111.5 L151.9 111.54 L152.4 111.57 L152.9 111.61 L153.4 111.64 L153.9 111.66 L154.4 111.69 L154.9 111.71 L155.4 111.73 L155.9 111.75 L156.4 111.76 L156.9 111.78 L157.4 111.79 L157.9 111.79 L158.4 111.8 L158.9 111.8 L159.4 111.8 L159.9 111.8 L160.4 111.79 L160.9 111.78 L161.4 111.77 L161.9 111.76 L162.4 111.75 L162.9 111.73 L163.4 111.71 L163.9 111.68 L164.4 111.66 L164.9 111.63 L165.4 111.6 L165.9 111.57 L166.4 111.53 L166.9 111.5 L167.4 111.46 L167.9 111.41 L168.4 111.37 L168.9 111.32 L169.4 111.27 L169.9 111.22 L170.4 111.17 L170.9 111.11 L171.4 111.05 L171.9 110.99 L172.4 110.93 L172.9 110.86 L173.4 110.79 L173.9 110.72 L174.4 110.65 L174.9 110.58 L175.4 110.5 L175.9 110.42 L176.4 110.34 L176.9 110.26 L177.4 110.18 L177.9 110.09 L178.4 110 L178.9 109.91 L179.4 109.82 L179.9 109.73 L180.4 109.64 L180.9 109.54 L181.4 109.44 L181.9 109.34 L182.4 109.24 L182.9 109.14 L183.4 109.03 L183.9 108.93 L184.4 108.82 L184.9 108.71 L185.4 108.6 L185.9 108.49 L186.4 108.37 L186.9 108.26 L187.4 108.15 L187.9 108.03 L188.4 107.91 L188.9 107.79 L189.4 107.67 L189.9 107.55 L190.4 107.43 L190.9 107.31 L191.4 107.19 L191.9 107.06 L192.4 106.94 L192.9 106.81 L193.4 106.69 L193.9 106.56 L194.4 106.44 L194.9 106.31 L195.4 106.18 L195.9 106.05 L196.4 105.92 L196.9 105.8 L197.4 105.67 L197.9 105.54 L198.4 105.41 L198.9 105.28 L199.4 105.15 L199.9 105.02 L200.4 104.89 L200.9 104.76 L201.4 104.63 L201.9 104.5 L202.4 104.38 L202.9 104.25 L203.4 104.12 L203.9 103.99 L204.4 103.87 L204.9 103.74 L205.4 103.61 L205.9 103.49 L206.4 103.36 L206.9 103.24 L207.4 103.12 L207.9 102.99 L208.4 102.87 L208.9 102.75 L209.4 102.63 L209.9 102.51 L210.4 102.4 L210.9 102.28 L211.4 102.16 L211.9 102.05 L212.4 101.94 L212.9 101.83 L213.4 101.72 L213.9 101.61 L214.4 101.5 L214.9 101.39 L215.4 101.29 L215.9 101.18 L216.4 101.08 L216.9 100.98 L217.4 100.88 L217.9 100.79 L218.4 100.69 L218.9 100.6 L219.4 100.51 L219.9 100.42 L220.4 100.33 L220.9 100.24 L221.4 100.16 L221.9 100.07 L222.4 99.99 L222.9 99.92 L223.4 99.84 L223.9 99.76 L224.4 99.69 L224.9 99.62 L225.4 99.55 L225.9 99.49 L226.4 99.42 L226.9 99.36 L227.4 99.3 L227.9 99.25 L228.4 99.19 L228.9 99.14 L229.4 99.09 L229.9 99.04 L230.4 99 L230.9 98.95 L231.4 98.91 L231.9 98.87 L232.4 98.84 L232.9 98.81 L233.4 98.78 L233.9 98.75 L234.4 98.72 L234.9 98.7 L235.4 98.68 L235.9 98.66 L236.4 98.64 L236.9 98.63 L237.4 98.62 L237.9 98.61 L238.4 98.6 L238.9 98.6 L239.4 98.6 L239.9 98.6 L240.4 98.61 L240.9 98.61 L241.4 98.62 L241.9 98.63 L242.4 98.65 L242.9 98.67 L243.4 98.69 L243.9 98.71 L244.4 98.73 L244.9 98.76 L245.4 98.79 L245.9 98.82 L246.4 98.85 L246.9 98.89 L247.4 98.93 L247.9 98.97 L248.4 99.02 L248.9 99.06 L249.4 99.11 L249.9 99.16 L250.4 99.22 L250.9 99.27 L251.4 99.33 L251.9 99.39 L252.4 99.45 L252.9 99.52 L253.4 99.58 L253.9 99.65 L254.4 99.72 L254.9 99.8 L255.4 99.87 L255.9 99.95 L256.4 100.03 L256.9 100.11 L257.4 100.19 L257.9 100.28 L258.4 100.36 L258.9 100.45 L259.4 100.54 L259.9 100.64 L260.4 100.73 L260.9 100.83 L261.4 100.93 L261.9 101.02 L262.4 101.13 L262.9 101.23 L263.4 101.33 L263.9 101.44 L264.4 101.54 L264.9 101.65 L265.4 101.76 L265.9 101.87 L266.4 101.99 L266.9 102.1 L267.4 102.21 L267.9 102.33 L268.4 102.45 L268.9 102.57 L269.4 102.68 L269.9 102.8 L270.4 102.93 L270.9 103.05 L271.4 103.17 L271.9 103.29 L272.4 103.42 L272.9 103.54 L273.4 103.67 L273.9 103.79 L274.4 103.92 L274.9 104.05 L275.4 104.17 L275.9 104.3 L276.4 104.43 L276.9 104.56 L277.4 104.69 L277.9 104.82 L278.4 104.95 L278.9 105.08 L279.4 105.21 L279.9 105.33 L280.4 105.46 L280.9 105.59 L281.4 105.72 L281.9 105.85 L282.4 105.98 L282.9 106.11 L283.4 106.24 L283.9 106.36 L284.4 106.49 L284.9 106.62 L285.4 106.74 L285.9 106.87 L286.4 106.99 L286.9 107.12 L287.4 107.24 L287.9 107.36 L288.4 107.48 L288.9 107.61 L289.4 107.73 L289.9 107.84 L290.4 107.96 L290.9 108.08 L291.4 108.19 L291.9 108.31 L292.4 108.42 L292.9 108.54 L293.4 108.65 L293.9 108.76 L294.4 108.86 L294.9 108.97 L295.4 109.08 L295.9 109.18 L296.4 109.28 L296.9 109.38 L297.4 109.48 L297.9 109.58 L298.4 109.68 L298.9 109.77 L299.4 109.86 L299.9 109.95 L300.4 110.04 L300.9 110.13 L301.4 110.21 L301.9 110.3 L302.4 110.38 L302.9 110.46 L303.4 110.53 L303.9 110.61 L304.4 110.68 L304.9 110.75 L305.4 110.82 L305.9 110.89 L306.4 110.95 L306.9 111.02 L307.4 111.08 L307.9 111.13 L308.4 111.19 L308.9 111.24 L309.4 111.29 L309.9 111.34 L310.4 111.39 L310.9 111.43 L311.4 111.47 L311.9 111.51 L312.4 111.55 L312.9 111.58 L313.4 111.61 L313.9 111.64 L314.4 111.67 L314.9 111.69 L315.4 111.72 L315.9 111.74 L316.4 111.75 L316.9 111.77 L317.4 111.78 L317.9 111.79 L318.4 111.79 L318.9 111.8 L319.4 111.8 L319.9 111.8 L320.4 111.8 L320.9 111.79 L321.4 111.78 L321.9 111.77 L322.4 111.76 L322.9 111.74 L323.4 111.72 L323.9 111.7 L324.4 111.68 L324.9 111.65 L325.4 111.62 L325.9 111.59 L326.4 111.56 L326.9 111.52 L327.4 111.48 L327.9 111.44 L328.4 111.4 L328.9 111.35 L329.4 111.31 L329.9 111.26 L330.4 111.2 L330.9 111.15 L331.4 111.09 L331.9 111.03 L332.4 110.97 L332.9 110.91 L333.4 110.84 L333.9 110.77 L334.4 110.7 L334.9 110.63 L335.4 110.56 L335.9 110.48 L336.4 110.4 L336.9 110.32 L337.4 110.24 L337.9 110.15 L338.4 110.07 L338.9 109.98 L339.4 109.89 L339.9 109.8 L340.4 109.7 L340.9 109.61 L341.4 109.51 L341.9 109.41 L342.4 109.31 L342.9 109.21 L343.4 109.1 L343.9 109 L344.4 108.89 L344.9 108.79 L345.4 108.68 L345.9 108.57 L346.4 108.45 L346.9 108.34 L347.4 108.23 L347.9 108.11 L348.4 107.99 L348.9 107.88 L349.4 107.76 L349.9 107.64 L350.4 107.52 L350.9 107.4 L351.4 107.27 L351.9 107.15 L352.4 107.03 L352.9 106.9 L353.4 106.78 L353.9 106.65 L354.4 106.52 L354.9 106.4 L355.4 106.27 L355.9 106.14 L356.4 106.01 L356.9 105.89 L357.4 105.76 L357.9 105.63 L358.4 105.5 L358.9 105.37 L359.4 105.24 L359.9 105.11 L360.4 104.98 L360.9 104.85 L361.4 104.72 L361.9 104.59 L362.4 104.47 L362.9 104.34 L363.4 104.21 L363.9 104.08 L364.4 103.95 L364.9 103.83 L365.4 103.7 L365.9 103.58 L366.4 103.45 L366.9 103.33 L367.4 103.2 L367.9 103.08 L368.4 102.96 L368.9 102.84 L369.4 102.72 L369.9 102.6 L370.4 102.48 L370.9 102.36 L371.4 102.25 L371.9 102.13 L372.4 102.02 L372.9 101.9 L373.4 101.79 L373.9 101.68 L374.4 101.57 L374.9 101.47 L375.4 101.36 L375.9 101.26 L376.4 101.15 L376.9 101.05 L377.4 100.95 L377.9 100.85 L378.4 100.76 L378.9 100.66 L379.4 100.57 L379.9 100.48 L380.4 100.39 L380.9 100.3 L381.4 100.22 L381.9 100.13 L382.4 100.05 L382.9 99.97 L383.4 99.89 L383.9 99.82 L384.4 99.74 L384.9 99.67 L385.4 99.6 L385.9 99.53 L386.4 99.47 L386.9 99.41 L387.4 99.35 L387.9 99.29 L388.4 99.23 L388.9 99.18 L389.4 99.12 L389.9 99.08 L390.4 99.03 L390.9 98.98 L391.4 98.94 L391.9 98.9 L392.4 98.86 L392.9 98.83 L393.4 98.8 L393.9 98.77 L394.4 98.74 L394.9 98.71 L395.4 98.69 L395.9 98.67 L396.4 98.65 L396.9 98.64 L397.4 98.63 L397.9 98.62 L398.4 98.61 L398.9 98.6 L399.4 98.6 L399.9 98.6 L400.4 98.6 L400.9 98.61 L401.4 98.62 L401.9 98.63 L402.4 98.64 L402.9 98.65 L403.4 98.67 L403.9 98.69 L404.4 98.71 L404.9 98.74 L405.4 98.77 L405.9 98.8 L406.4 98.83 L406.9 98.87 L407.4 98.9 L407.9 98.94 L408.4 98.98 L408.9 99.03 L409.4 99.08 L409.9 99.13 L410.4 99.18 L410.9 99.23 L411.4 99.29 L411.9 99.35 L412.4 99.41 L412.9 99.47 L413.4 99.54 L413.9 99.6 L414.4 99.67 L414.9 99.74 L415.4 99.82 L415.9 99.89 L416.4 99.97 L416.9 100.05 L417.4 100.13 L417.9 100.22 L418.4 100.3 L418.9 100.39 L419.4 100.48 L419.9 100.57 L420.4 100.67 L420.9 100.76 L421.4 100.86 L421.9 100.95 L422.4 101.05 L422.9 101.16 L423.4 101.26 L423.9 101.36 L424.4 101.47 L424.9 101.58 L425.4 101.69 L425.9 101.8 L426.4 101.91 L426.9 102.02 L427.4 102.13 L427.9 102.25 L428.4 102.37 L428.9 102.48 L429.4 102.6 L429.9 102.72 L430.4 102.84 L430.9 102.96 L431.4 103.08 L431.9 103.21 L432.4 103.33 L432.9 103.45 L433.4 103.58 L433.9 103.71 L434.4 103.83 L434.9 103.96 L435.4 104.09 L435.9 104.21 L436.4 104.34 L436.9 104.47 L437.4 104.6 L437.9 104.73 L438.4 104.86 L438.9 104.99 L439.4 105.11 L439.9 105.24 L440.4 105.37 L440.9 105.5 L441.4 105.63 L441.9 105.76 L442.4 105.89 L442.9 106.02 L443.4 106.15 L443.9 106.27 L444.4 106.4 L444.9 106.53 L445.4 106.65 L445.9 106.78 L446.4 106.91 L446.9 107.03 L447.4 107.15 L447.9 107.28 L448.4 107.4 L448.9 107.52 L449.4 107.64 L449.9 107.76 L450.4 107.88 L450.9 108 L451.4 108.11 L451.9 108.23 L452.4 108.34 L452.9 108.46 L453.4 108.57 L453.9 108.68 L454.4 108.79 L454.9 108.9 L455.4 109 L455.9 109.11 L456.4 109.21 L456.9 109.31 L457.4 109.41 L457.9 109.51 L458.4 109.61 L458.9 109.7 L459.4 109.8 L459.9 109.89 L460.4 109.98 L460.9 110.07 L461.4 110.15 L461.9 110.24 L462.4 110.32 L462.9 110.4 L463.4 110.48 L463.9 110.56 L464.4 110.63 L464.9 110.7 L465.4 110.77 L465.9 110.84 L466.4 110.91 L466.9 110.97 L467.4 111.03 L467.9 111.09 L468.4 111.15 L468.9 111.21 L469.4 111.26 L469.9 111.31 L470.4 111.36 L470.9 111.4 L471.4 111.44 L471.9 111.48 L472.4 111.52 L472.9 111.56 L473.4 111.59 L473.9 111.62 L474.4 111.65 L474.9 111.68 L475.4 111.7 L475.9 111.72 L476.4 111.74 L476.9 111.76 L477.4 111.77 L477.9 111.78 L478.4 111.79 L478.9 111.8 L479.4 111.8 L479.9 111.8 L480.4 111.8 L480.9 111.79 L481.4 111.79 L481.9 111.78 L482.4 111.77 L482.9 111.75 L483.4 111.74 L483.9 111.72 L484.4 111.69 L484.9 111.67 L485.4 111.64 L485.9 111.61 L486.4 111.58 L486.9 111.55 L487.4 111.51 L487.9 111.47 L488.4 111.43 L488.9 111.39 L489.4 111.34 L489.9 111.29 L490.4 111.24 L490.9 111.19 L491.4 111.13 L491.9 111.07 L492.4 111.01 L492.9 110.95 L493.4 110.89 L493.9 110.82 L494.4 110.75 L494.9 110.68 L495.4 110.61 L495.9 110.53 L496.4 110.46 L496.9 110.38 L497.4 110.29 L497.9 110.21 L498.4 110.13 L498.9 110.04 L499.4 109.95 L499.9 109.86 L500.4 109.77 L500.9 109.67 L501.4 109.58 L501.9 109.48 L502.4 109.38 L502.9 109.28 L503.4 109.18 L503.9 109.07 L504.4 108.97 L504.9 108.86 L505.4 108.75 L505.9 108.64 L506.4 108.53 L506.9 108.42 L507.4 108.31 L507.9 108.19 L508.4 108.08 L508.9 107.96 L509.4 107.84 L509.9 107.72 L510.4 107.6 L510.9 107.48 L511.4 107.36 L511.9 107.24 L512.4 107.11 L512.9 106.99 L513.4 106.86 L513.9 106.74 L514.4 106.61 L514.9 106.49 L515.4 106.36 L515.9 106.23 L516.4 106.1 L516.9 105.98 L517.4 105.85 L517.9 105.72 L518.4 105.59 L518.9 105.46 L519.4 105.33 L519.9 105.2 L520.4 105.07 L520.9 104.94 L521.4 104.81 L521.9 104.68 L522.4 104.56 L522.9 104.43 L523.4 104.3 L523.9 104.17 L524.4 104.04 L524.9 103.92 L525.4 103.79 L525.9 103.66 L526.4 103.54 L526.9 103.41 L527.4 103.29 L527.9 103.17 L528.4 103.04 L528.9 102.92 L529.4 102.8 L529.9 102.68 L530.4 102.56 L530.9 102.44 L531.4 102.33 L531.9 102.21 L532.4 102.1 L532.9 101.98 L533.4 101.87 L533.9 101.76 L534.4 101.65 L534.9 101.54 L535.4 101.43 L535.9 101.33 L536.4 101.23 L536.9 101.12 L537.4 101.02 L537.9 100.92 L538.4 100.82 L538.9 100.73 L539.4 100.63 L539.9 100.54 L540.4 100.45 L540.9 100.36 L541.4 100.28 L541.9 100.19 L542.4 100.11 L542.9 100.03 L543.4 99.95 L543.9 99.87 L544.4 99.79 L544.9 99.72 L545.4 99.65 L545.9 99.58 L546.4 99.51 L546.9 99.45 L547.4 99.39 L547.9 99.33 L548.4 99.27 L548.9 99.21 L549.4 99.16 L549.9 99.11 L550.4 99.06 L550.9 99.01 L551.4 98.97 L551.9 98.93 L552.4 98.89 L552.9 98.85 L553.4 98.82 L553.9 98.79 L554.4 98.76 L554.9 98.73 L555.4 98.71 L555.9 98.68 L556.4 98.67 L556.9 98.65 L557.4 98.63 L557.9 98.62 L558.4 98.61 L558.9 98.61 L559.4 98.6 L559.9 98.6 L560.4 98.6 L560.9 98.6 L561.4 98.61 L561.9 98.62 L562.4 98.63 L562.9 98.64 L563.4 98.66 L563.9 98.68 L564.4 98.7 L564.9 98.72 L565.4 98.75 L565.9 98.78 L566.4 98.81 L566.9 98.84 L567.4 98.88 L567.9 98.91 L568.4 98.95 L568.9 99 L569.4 99.04 L569.9 99.09 L570.4 99.14 L570.9 99.19 L571.4 99.25 L571.9 99.31 L572.4 99.36 L572.9 99.43 L573.4 99.49 L573.9 99.56 L574.4 99.62 L574.9 99.69 L575.4 99.77 L575.9 99.84 L576.4 99.92 L576.9 100 L577.4 100.08 L577.9 100.16 L578.4 100.24 L578.9 100.33 L579.4 100.42 L579.9 100.51 L580.4 100.6 L580.9 100.69 L581.4 100.79 L581.9 100.89 L582.4 100.98 L582.9 101.08 L583.4 101.19 L583.9 101.29 L584.4 101.4 L584.9 101.5 L585.4 101.61 L585.9 101.72 L586.4 101.83 L586.9 101.94 L587.4 102.05 L587.9 102.17 L588.4 102.28 L588.9 102.4 L589.4 102.52 L589.9 102.64 L590.4 102.76 L590.9 102.88 L591.4 103 L591.9 103.12 L592.4 103.24 L592.9 103.37 L593.4 103.49 L593.9 103.62 L594.4 103.74 L594.9 103.87 L595.4 104 L595.9 104.12 L596.4 104.25 L596.9 104.38 L597.4 104.51 L597.9 104.64 L598.4 104.77 L598.9 104.89 L599.4 105.02 L599.9 105.15 L600.4 105.28 L600.9 105.41 L601.4 105.54 L601.9 105.67 L602.4 105.8 L602.9 105.93 L603.4 106.06 L603.9 106.18 L604.4 106.31 L604.9 106.44 L605.4 106.57 L605.9 106.69 L606.4 106.82 L606.9 106.94 L607.4 107.07 L607.9 107.19 L608.4 107.31 L608.9 107.44 L609.4 107.56 L609.9 107.68 L610.4 107.8 L610.9 107.92 L611.4 108.03 L611.9 108.15 L612.4 108.26 L612.9 108.38 L613.4 108.49 L613.9 108.6 L614.4 108.71 L614.9 108.82 L615.4 108.93 L615.9 109.03 L616.4 109.14 L616.9 109.24 L617.4 109.34 L617.9 109.44 L618.4 109.54 L618.9 109.64 L619.4 109.73 L619.9 109.83 L620.4 109.92 L620.9 110.01 L621.4 110.09 L621.9 110.18 L622.4 110.26 L622.9 110.35 L623.4 110.43 L623.9 110.5 L624.4 110.58 L624.9 110.65 L625.4 110.73 L625.9 110.8 L626.4 110.86 L626.9 110.93 L627.4 110.99 L627.9 111.05 L628.4 111.11 L628.9 111.17 L629.4 111.22 L629.9 111.27 L630.4 111.32 L630.9 111.37 L631.4 111.41 L631.9 111.46 L632.4 111.5 L632.9 111.53 L633.4 111.57 L633.9 111.6 L634.4 111.63 L634.9 111.66 L635.4 111.69 L635.9 111.71 L636.4 111.73 L636.9 111.75 L637.4 111.76 L637.9 111.77 L638.4 111.78 L638.9 111.79 L639.4 111.8 L639.9 111.8 L640.4 111.8 L640.9 111.8 L641.4 111.79 L641.9 111.78 L642.4 111.77 L642.9 111.76 L643.4 111.75 L643.9 111.73 L644.4 111.71 L644.9 111.69 L645.4 111.66 L645.9 111.63 L646.4 111.6 L646.9 111.57 L647.4 111.54 L647.9 111.5 L648.4 111.46 L648.9 111.42 L649.4 111.37 L649.9 111.33 L650.4 111.28 L650.9 111.22 L651.4 111.17 L651.9 111.11 L652.4 111.06 L652.9 111 L653.4 110.93 L653.9 110.87 L654.4 110.8 L654.9 110.73 L655.4 110.66 L655.9 110.59 L656.4 110.51 L656.9 110.43 L657.4 110.35 L657.9 110.27 L658.4 110.19 L658.9 110.1 L659.4 110.01 L659.9 109.92 L660.4 109.83 L660.9 109.74 L661.4 109.64 L661.9 109.55 L662.4 109.45 L662.9 109.35 L663.4 109.25 L663.9 109.15 L664.4 109.04 L664.9 108.94 L665.4 108.83 L665.9 108.72 L666.4 108.61 L666.9 108.5 L667.4 108.39 L667.9 108.27 L668.4 108.16 L668.9 108.04 L669.4 107.92 L669.9 107.81 L670.4 107.69 L670.9 107.57 L671.4 107.44 L671.9 107.32 L672.4 107.2 L672.9 107.08 L673.4 106.95 L673.9 106.83 L674.4 106.7 L674.9 106.57 L675.4 106.45 L675.9 106.32 L676.4 106.19 L676.9 106.07 L677.4 105.94 L677.9 105.81 L678.4 105.68 L678.9 105.55 L679.4 105.42 L679.9 105.29 L680.4 105.16 L680.9 105.03 L681.4 104.9 L681.9 104.77 L682.4 104.65 L682.9 104.52 L683.4 104.39 L683.9 104.26 L684.4 104.13 L684.9 104.01 L685.4 103.88 L685.9 103.75 L686.4 103.63 L686.9 103.5 L687.4 103.38 L687.9 103.25 L688.4 103.13 L688.9 103.01 L689.4 102.89 L689.5 102.86" fill="none" stroke="#e4161c" stroke-width="2.5" stroke-linejoin="round"/>
<path d="M49.1 394.49 L49.35 394.54 L49.6 394.51 L49.85 394.33 L50.1 394.01 L50.35 393.54 L50.6 392.95 L50.85 392.3 L51.1 391.63 L51.35 391.01 L51.6 390.48 L51.85 390.09 L52.1 389.85 L52.35 389.76 L52.6 389.78 L52.85 389.87 L53.1 389.98 L53.35 390.04 L53.6 390.01 L53.85 389.85 L54.1 389.53 L54.35 389.07 L54.6 388.49 L54.85 387.84 L55.1 387.18 L55.35 386.56 L55.6 386.03 L55.85 385.64 L56.1 385.4 L56.35 385.31 L56.6 385.34 L56.85 385.44 L57.1 385.55 L57.35 385.63 L57.6 385.61 L57.85 385.46 L58.1 385.16 L58.35 384.71 L58.6 384.15 L58.85 383.51 L59.1 382.86 L59.35 382.25 L59.6 381.73 L59.85 381.35 L60.1 381.11 L60.35 381.03 L60.6 381.06 L60.85 381.18 L61.1 381.31 L61.35 381.4 L61.6 381.4 L61.85 381.27 L62.1 380.99 L62.35 380.57 L62.6 380.03 L62.85 379.41 L63.1 378.77 L63.35 378.18 L63.6 377.68 L63.85 377.31 L64.1 377.09 L64.35 377.02 L64.6 377.07 L64.85 377.2 L65.1 377.35 L65.35 377.47 L65.6 377.49 L65.85 377.39 L66.1 377.14 L66.35 376.75 L66.6 376.23 L66.85 375.64 L67.1 375.03 L67.35 374.46 L67.6 373.97 L67.85 373.62 L68.1 373.42 L68.35 373.37 L68.6 373.44 L68.85 373.6 L69.1 373.78 L69.35 373.92 L69.6 373.98 L69.85 373.92 L70.1 373.7 L70.35 373.34 L70.6 372.86 L70.85 372.3 L71.1 371.71 L71.35 371.17 L71.6 370.71 L71.85 370.38 L72.1 370.21 L72.35 370.18 L72.6 370.28 L72.85 370.47 L73.1 370.68 L73.35 370.86 L73.6 370.95 L73.85 370.92 L74.1 370.75 L74.35 370.43 L74.6 369.98 L74.85 369.46 L75.1 368.91 L75.35 368.39 L75.6 367.97 L75.85 367.67 L76.1 367.52 L76.35 367.53 L76.6 367.66 L76.85 367.88 L77.1 368.12 L77.35 368.34 L77.6 368.48 L77.85 368.49 L78.1 368.36 L78.35 368.08 L78.6 367.68 L78.85 367.19 L79.1 366.68 L79.35 366.2 L79.6 365.81 L79.85 365.55 L80.1 365.43 L80.35 365.47 L80.6 365.64 L80.85 365.89 L81.1 366.18 L81.35 366.44 L81.6 366.62 L81.85 366.68 L82.1 366.6 L82.35 366.36 L82.6 366.01 L82.85 365.56 L83.1 365.09 L83.35 364.65 L83.6 364.3 L83.85 364.07 L84.1 363.99 L84.35 364.07 L84.6 364.27 L84.85 364.56 L85.1 364.89 L85.35 365.2 L85.6 365.43 L85.85 365.53 L86.1 365.5 L86.35 365.31 L86.6 365 L86.85 364.61 L87.1 364.18 L87.35 363.78 L87.6 363.46 L87.85 363.27 L88.1 363.23 L88.35 363.34 L88.6 363.59 L88.85 363.92 L89.1 364.29 L89.35 364.65 L89.6 364.92 L89.85 365.08 L90.1 365.09 L90.35 364.96 L90.6 364.69 L90.85 364.34 L91.1 363.96 L91.35 363.6 L91.6 363.33 L91.85 363.17 L92.1 363.17 L92.35 363.32 L92.6 363.6 L92.85 363.98 L93.1 364.4 L93.35 364.8 L93.6 365.12 L93.85 365.33 L94.1 365.39 L94.35 365.3 L94.6 365.09 L94.85 364.79 L95.1 364.45 L95.35 364.13 L95.6 363.89 L95.85 363.78 L96.1 363.81 L96.35 364 L96.6 364.32 L96.85 364.74 L97.1 365.2 L97.35 365.64 L97.6 366.01 L97.85 366.27 L98.1 366.38 L98.35 366.34 L98.6 366.18 L98.85 365.92 L99.1 365.62 L99.35 365.35 L99.6 365.15 L99.85 365.07 L100.1 365.14 L100.35 365.37 L100.6 365.73 L100.85 366.18 L101.1 366.68 L101.35 367.17 L101.6 367.58 L101.85 367.89 L102.1 368.04 L102.35 368.05 L102.6 367.93 L102.85 367.72 L103.1 367.46 L103.35 367.23 L103.6 367.06 L103.85 367.02 L104.1 367.12 L104.35 367.38 L104.6 367.78 L104.85 368.27 L105.1 368.81 L105.35 369.33 L105.6 369.79 L105.85 370.14 L106.1 370.34 L106.35 370.39 L106.6 370.31 L106.85 370.14 L107.1 369.92 L107.35 369.72 L107.6 369.59 L107.85 369.58 L108.1 369.71 L108.35 370 L108.6 370.42 L108.85 370.95 L109.1 371.52 L109.35 372.08 L109.6 372.58 L109.85 372.96 L110.1 373.21 L110.35 373.3 L110.6 373.26 L110.85 373.12 L111.1 372.94 L111.35 372.77 L111.6 372.67 L111.85 372.68 L112.1 372.84 L112.35 373.15 L112.6 373.6 L112.85 374.16 L113.1 374.76 L113.35 375.35 L113.6 375.88 L113.85 376.3 L114.1 376.58 L114.35 376.71 L114.6 376.7 L114.85 376.59 L115.1 376.44 L115.35 376.29 L115.6 376.22 L115.85 376.25 L116.1 376.43 L116.35 376.77 L116.6 377.24 L116.85 377.81 L117.1 378.44 L117.35 379.06 L117.6 379.62 L117.85 380.07 L118.1 380.37 L118.35 380.53 L118.6 380.55 L118.85 380.47 L119.1 380.34 L119.35 380.22 L119.6 380.16 L119.85 380.21 L120.1 380.4 L120.35 380.75 L120.6 381.24 L120.85 381.83 L121.1 382.47 L121.35 383.12 L121.6 383.7 L121.85 384.17 L122.1 384.5 L122.35 384.68 L122.6 384.72 L122.85 384.66 L123.1 384.55 L123.35 384.44 L123.6 384.39 L123.85 384.45 L124.1 384.65 L124.35 385.01 L124.6 385.5 L124.85 386.1 L125.1 386.76 L125.35 387.42 L125.6 388.01 L125.85 388.5 L126.1 388.85 L126.35 389.05 L126.6 389.1 L126.85 389.06 L127.1 388.95 L127.35 388.85 L127.6 388.81 L127.85 388.87 L128.1 389.08 L128.35 389.43 L128.6 389.93 L128.85 390.54 L129.1 391.2 L129.35 391.86 L129.6 392.47 L129.85 392.96 L130.1 393.32 L130.35 393.53 L130.6 393.59 L130.85 393.55 L131.1 393.45 L131.35 393.35 L131.6 393.31 L131.85 393.37 L132.1 393.57 L132.35 393.92 L132.6 394.41 L132.85 395.01 L133.1 395.67 L133.35 396.34 L133.6 396.94 L133.85 397.44 L134.1 397.8 L134.35 398.01 L134.6 398.08 L134.85 398.04 L135.1 397.94 L135.35 397.83 L135.6 397.78 L135.85 397.83 L136.1 398.02 L136.35 398.36 L136.6 398.84 L136.85 399.43 L137.1 400.08 L137.35 400.73 L137.6 401.33 L137.85 401.83 L138.1 402.19 L138.35 402.4 L138.6 402.46 L138.85 402.41 L139.1 402.3 L139.35 402.18 L139.6 402.11 L139.85 402.14 L140.1 402.31 L140.35 402.63 L140.6 403.1 L140.85 403.67 L141.1 404.3 L141.35 404.95 L141.6 405.53 L141.85 406.02 L142.1 406.37 L142.35 406.57 L142.6 406.62 L142.85 406.56 L143.1 406.43 L143.35 406.29 L143.6 406.2 L143.85 406.21 L144.1 406.35 L144.35 406.65 L144.6 407.08 L144.85 407.63 L145.1 408.25 L145.35 408.87 L145.6 409.44 L145.85 409.91 L146.1 410.24 L146.35 410.42 L146.6 410.45 L146.85 410.37 L147.1 410.22 L147.35 410.06 L147.6 409.94 L147.85 409.92 L148.1 410.04 L148.35 410.3 L148.6 410.71 L148.85 411.22 L149.1 411.81 L149.35 412.4 L149.6 412.95 L149.85 413.4 L150.1 413.71 L150.35 413.87 L150.6 413.88 L150.85 413.77 L151.1 413.59 L151.35 413.4 L151.6 413.25 L151.85 413.2 L152.1 413.27 L152.35 413.5 L152.6 413.87 L152.85 414.35 L153.1 414.9 L153.35 415.47 L153.6 415.99 L153.85 416.41 L154.1 416.69 L154.35 416.82 L154.6 416.8 L154.85 416.67 L155.1 416.46 L155.35 416.23 L155.6 416.04 L155.85 415.95 L156.1 415.98 L156.35 416.17 L156.6 416.5 L156.85 416.94 L157.1 417.46 L157.35 417.98 L157.6 418.47 L157.85 418.86 L158.1 419.11 L158.35 419.21 L158.6 419.16 L158.85 418.99 L159.1 418.74 L159.35 418.47 L159.6 418.25 L159.85 418.11 L160.1 418.1 L160.35 418.24 L160.6 418.53 L160.85 418.93 L161.1 419.4 L161.35 419.89 L161.6 420.34 L161.85 420.69 L162.1 420.91 L162.35 420.97 L162.6 420.89 L162.85 420.68 L163.1 420.39 L163.35 420.09 L163.6 419.81 L163.85 419.63 L164.1 419.58 L164.35 419.67 L164.6 419.91 L164.85 420.26 L165.1 420.69 L165.35 421.14 L165.6 421.54 L165.85 421.86 L166.1 422.04 L166.35 422.07 L166.6 421.95 L166.85 421.7 L167.1 421.38 L167.35 421.02 L167.6 420.71 L167.85 420.48 L168.1 420.37 L168.35 420.41 L168.6 420.6 L168.85 420.91 L169.1 421.29 L169.35 421.7 L169.6 422.06 L169.85 422.34 L170.1 422.48 L170.35 422.47 L170.6 422.31 L170.85 422.03 L171.1 421.66 L171.35 421.26 L171.6 420.9 L171.85 420.62 L172.1 420.47 L172.35 420.46 L172.6 420.6 L172.85 420.86 L173.1 421.19 L173.35 421.55 L173.6 421.88 L173.85 422.11 L174.1 422.22 L174.35 422.17 L174.6 421.97 L174.85 421.65 L175.1 421.24 L175.35 420.8 L175.6 420.39 L175.85 420.06 L176.1 419.86 L176.35 419.8 L176.6 419.89 L176.85 420.1 L177.1 420.4 L177.35 420.71 L177.6 421 L177.85 421.19 L178.1 421.26 L178.35 421.18 L178.6 420.94 L178.85 420.58 L179.1 420.13 L179.35 419.65 L179.6 419.19 L179.85 418.82 L180.1 418.57 L180.35 418.46 L180.6 418.5 L180.85 418.67 L181.1 418.92 L181.35 419.19 L181.6 419.44 L181.85 419.6 L182.1 419.63 L182.35 419.51 L182.6 419.24 L182.85 418.84 L183.1 418.35 L183.35 417.83 L183.6 417.33 L183.85 416.91 L184.1 416.62 L184.35 416.47 L184.6 416.46 L184.85 416.59 L185.1 416.79 L185.35 417.03 L185.6 417.24 L185.85 417.36 L186.1 417.36 L186.35 417.21 L186.6 416.91 L186.85 416.48 L187.1 415.95 L187.35 415.39 L187.6 414.86 L187.85 414.4 L188.1 414.06 L188.35 413.87 L188.6 413.82 L188.85 413.91 L189.1 414.07 L189.35 414.28 L189.6 414.45 L189.85 414.55 L190.1 414.52 L190.35 414.34 L190.6 414.01 L190.85 413.55 L191.1 412.99 L191.35 412.4 L191.6 411.83 L191.85 411.34 L192.1 410.96 L192.35 410.73 L192.6 410.65 L192.85 410.69 L193.1 410.83 L193.35 411 L193.6 411.15 L193.85 411.22 L194.1 411.17 L194.35 410.96 L194.6 410.61 L194.85 410.13 L195.1 409.55 L195.35 408.93 L195.6 408.33 L195.85 407.8 L196.1 407.39 L196.35 407.13 L196.6 407.02 L196.85 407.03 L197.1 407.14 L197.35 407.28 L197.6 407.41 L197.85 407.46 L198.1 407.39 L198.35 407.17 L198.6 406.8 L198.85 406.29 L199.1 405.69 L199.35 405.05 L199.6 404.43 L199.85 403.88 L200.1 403.44 L200.35 403.15 L200.6 403.01 L200.85 403 L201.1 403.09 L201.35 403.21 L201.6 403.32 L201.85 403.36 L202.1 403.27 L202.35 403.04 L202.6 402.66 L202.85 402.14 L203.1 401.53 L203.35 400.88 L203.6 400.23 L203.85 399.66 L204.1 399.21 L204.35 398.9 L204.6 398.74 L204.85 398.71 L205.1 398.78 L205.35 398.89 L205.6 398.99 L205.85 399.02 L206.1 398.93 L206.35 398.69 L206.6 398.3 L206.85 397.78 L207.1 397.16 L207.35 396.5 L207.6 395.85 L207.85 395.26 L208.1 394.79 L208.35 394.47 L208.6 394.3 L208.85 394.26 L209.1 394.32 L209.35 394.42 L209.6 394.52 L209.85 394.54 L210.1 394.45 L210.35 394.22 L210.6 393.83 L210.85 393.31 L211.1 392.7 L211.35 392.03 L211.6 391.37 L211.85 390.78 L212.1 390.31 L212.35 389.98 L212.6 389.8 L212.85 389.75 L213.1 389.81 L213.35 389.92 L213.6 390.01 L213.85 390.05 L214.1 389.96 L214.35 389.74 L214.6 389.36 L214.85 388.85 L215.1 388.24 L215.35 387.57 L215.6 386.92 L215.85 386.33 L216.1 385.86 L216.35 385.53 L216.6 385.35 L216.85 385.31 L217.1 385.37 L217.35 385.48 L217.6 385.59 L217.85 385.63 L218.1 385.56 L218.35 385.35 L218.6 384.99 L218.85 384.5 L219.1 383.9 L219.35 383.25 L219.6 382.61 L219.85 382.03 L220.1 381.56 L220.35 381.24 L220.6 381.06 L220.85 381.03 L221.1 381.1 L221.35 381.23 L221.6 381.35 L221.85 381.41 L222.1 381.37 L222.35 381.18 L222.6 380.84 L222.85 380.37 L223.1 379.79 L223.35 379.16 L223.6 378.53 L223.85 377.96 L224.1 377.51 L224.35 377.2 L224.6 377.04 L224.85 377.02 L225.1 377.11 L225.35 377.26 L225.6 377.4 L225.85 377.49 L226.1 377.47 L226.35 377.31 L226.6 377 L226.85 376.55 L227.1 376 L227.35 375.4 L227.6 374.79 L227.85 374.25 L228.1 373.81 L228.35 373.52 L228.6 373.38 L228.85 373.39 L229.1 373.5 L229.35 373.67 L229.6 373.84 L229.85 373.96 L230.1 373.97 L230.35 373.85 L230.6 373.57 L230.85 373.16 L231.1 372.64 L231.35 372.06 L231.6 371.49 L231.85 370.97 L232.1 370.56 L232.35 370.29 L232.6 370.18 L232.85 370.21 L233.1 370.35 L233.35 370.55 L233.6 370.76 L233.85 370.91 L234.1 370.96 L234.35 370.87 L234.6 370.64 L234.85 370.26 L235.1 369.78 L235.35 369.24 L235.6 368.7 L235.85 368.21 L236.1 367.83 L236.35 367.59 L236.6 367.51 L236.85 367.57 L237.1 367.74 L237.35 367.98 L237.6 368.22 L237.85 368.41 L238.1 368.5 L238.35 368.46 L238.6 368.27 L238.85 367.93 L239.1 367.49 L239.35 366.99 L239.6 366.49 L239.85 366.03 L240.1 365.69 L240.35 365.48 L240.6 365.43 L240.85 365.53 L241.1 365.73 L241.35 366.01 L241.6 366.29 L241.85 366.53 L242.1 366.66 L242.35 366.67 L242.6 366.52 L242.85 366.23 L243.1 365.84 L243.35 365.38 L243.6 364.91 L243.85 364.5 L244.1 364.19 L244.35 364.02 L244.6 364 L244.85 364.13 L245.1 364.38 L245.35 364.7 L245.6 365.02 L245.85 365.3 L246.1 365.49 L246.35 365.54 L246.6 365.44 L246.85 365.2 L247.1 364.85 L247.35 364.44 L247.6 364.01 L247.85 363.64 L248.1 363.37 L248.35 363.24 L248.6 363.26 L248.85 363.43 L249.1 363.71 L249.35 364.07 L249.6 364.44 L249.85 364.77 L250.1 365 L250.35 365.1 L250.6 365.05 L250.85 364.86 L251.1 364.56 L251.35 364.19 L251.6 363.81 L251.85 363.48 L252.1 363.25 L252.35 363.16 L252.6 363.21 L252.85 363.42 L253.1 363.75 L253.35 364.15 L253.6 364.56 L253.85 364.94 L254.1 365.22 L254.35 365.37 L254.6 365.37 L254.85 365.23 L255.1 364.98 L255.35 364.65 L255.6 364.31 L255.85 364.02 L256.1 363.83 L256.35 363.77 L256.6 363.87 L256.85 364.12 L257.1 364.48 L257.35 364.92 L257.6 365.38 L257.85 365.8 L258.1 366.13 L258.35 366.33 L258.6 366.38 L258.85 366.29 L259.1 366.08 L259.35 365.8 L259.6 365.51 L259.85 365.26 L260.1 365.1 L260.35 365.08 L260.6 365.21 L260.85 365.5 L261.1 365.9 L261.35 366.38 L261.6 366.88 L261.85 367.35 L262.1 367.72 L262.35 367.97 L262.6 368.06 L262.85 368.02 L263.1 367.86 L263.35 367.62 L263.6 367.36 L263.85 367.15 L264.1 367.03 L264.35 367.04 L264.6 367.21 L264.85 367.52 L265.1 367.96 L265.35 368.48 L265.6 369.02 L265.85 369.53 L266.1 369.95 L266.35 370.23 L266.6 370.38 L266.85 370.37 L267.1 370.25 L267.35 370.05 L267.6 369.84 L267.85 369.66 L268.1 369.57 L268.35 369.61 L268.6 369.81 L268.85 370.15 L269.1 370.62 L269.35 371.17 L269.6 371.75 L269.85 372.29 L270.1 372.75 L270.35 373.08 L270.6 373.26 L270.85 373.3 L271.1 373.21 L271.35 373.05 L271.6 372.86 L271.85 372.71 L272.1 372.66 L272.35 372.73 L272.6 372.95 L272.85 373.32 L273.1 373.81 L273.35 374.39 L273.6 375 L273.85 375.58 L274.1 376.07 L274.35 376.43 L274.6 376.65 L274.85 376.72 L275.1 376.67 L275.35 376.53 L275.6 376.38 L275.85 376.25 L276.1 376.21 L276.35 376.31 L276.6 376.55 L276.85 376.94 L277.1 377.46 L277.35 378.06 L277.6 378.69 L277.85 379.29 L278.1 379.81 L278.35 380.21 L278.6 380.46 L278.85 380.55 L279.1 380.53 L279.35 380.42 L279.6 380.29 L279.85 380.18 L280.1 380.16 L280.35 380.27 L280.6 380.52 L280.85 380.93 L281.1 381.46 L281.35 382.08 L281.6 382.73 L281.85 383.36 L282.1 383.9 L282.35 384.32 L282.6 384.59 L282.85 384.71 L283.1 384.71 L283.35 384.62 L283.6 384.5 L283.85 384.41 L284.1 384.4 L284.35 384.51 L284.6 384.78 L284.85 385.19 L285.1 385.73 L285.35 386.36 L285.6 387.03 L285.85 387.67 L286.1 388.22 L286.35 388.66 L286.6 388.95 L286.85 389.08 L287.1 389.1 L287.35 389.02 L287.6 388.91 L287.85 388.82 L288.1 388.82 L288.35 388.94 L288.6 389.2 L288.85 389.62 L289.1 390.16 L289.35 390.8 L289.6 391.47 L289.85 392.11 L290.1 392.68 L290.35 393.12 L290.6 393.42 L290.85 393.57 L291.1 393.59 L291.35 393.52 L291.6 393.41 L291.85 393.32 L292.1 393.32 L292.35 393.43 L292.6 393.69 L292.85 394.1 L293.1 394.64 L293.35 395.27 L293.6 395.94 L293.85 396.59 L294.1 397.16 L294.35 397.61 L294.6 397.91 L294.85 398.06 L295.1 398.08 L295.35 398 L295.6 397.89 L295.85 397.8 L296.1 397.78 L296.35 397.89 L296.6 398.14 L296.85 398.53 L297.1 399.06 L297.35 399.68 L297.6 400.34 L297.85 400.98 L298.1 401.55 L298.35 401.99 L298.6 402.29 L298.85 402.44 L299.1 402.45 L299.35 402.37 L299.6 402.25 L299.85 402.14 L300.1 402.11 L300.35 402.19 L300.6 402.42 L300.85 402.8 L301.1 403.31 L301.35 403.92 L301.6 404.56 L301.85 405.19 L302.1 405.74 L302.35 406.18 L302.6 406.47 L302.85 406.6 L303.1 406.6 L303.35 406.51 L303.6 406.37 L303.85 406.24 L304.1 406.19 L304.35 406.25 L304.6 406.45 L304.85 406.81 L305.1 407.29 L305.35 407.87 L305.6 408.5 L305.85 409.11 L306.1 409.64 L306.35 410.06 L306.6 410.33 L306.85 410.45 L307.1 410.43 L307.35 410.32 L307.6 410.15 L307.85 410 L308.1 409.92 L308.35 409.95 L308.6 410.12 L308.85 410.45 L309.1 410.9 L309.35 411.45 L309.6 412.05 L309.85 412.63 L310.1 413.14 L310.35 413.54 L310.6 413.79 L310.85 413.89 L311.1 413.85 L311.35 413.7 L311.6 413.51 L311.85 413.33 L312.1 413.21 L312.35 413.21 L312.6 413.35 L312.85 413.63 L313.1 414.05 L313.35 414.57 L313.6 415.13 L313.85 415.68 L314.1 416.17 L314.35 416.54 L314.6 416.76 L314.85 416.83 L315.1 416.76 L315.35 416.59 L315.6 416.36 L315.85 416.14 L316.1 415.99 L316.35 415.94 L316.6 416.04 L316.85 416.28 L317.1 416.66 L317.35 417.14 L317.6 417.67 L317.85 418.19 L318.1 418.64 L318.35 418.97 L318.6 419.17 L318.85 419.2 L319.1 419.1 L319.35 418.9 L319.6 418.63 L319.85 418.38 L320.1 418.18 L320.35 418.09 L320.6 418.14 L320.85 418.34 L321.1 418.67 L321.35 419.11 L321.6 419.6 L321.85 420.08 L322.1 420.49 L322.35 420.79 L322.6 420.95 L322.85 420.95 L323.1 420.82 L323.35 420.57 L323.6 420.27 L323.85 419.97 L324.1 419.73 L324.35 419.59 L324.6 419.6 L324.85 419.75 L325.1 420.04 L325.35 420.43 L325.6 420.87 L325.85 421.31 L326.1 421.68 L326.35 421.95 L326.6 422.07 L326.85 422.04 L327.1 421.86 L327.35 421.58 L327.6 421.23 L327.85 420.89 L328.1 420.6 L328.35 420.42 L328.6 420.37 L328.85 420.47 L329.1 420.71 L329.35 421.06 L329.6 421.46 L329.85 421.85 L330.1 422.19 L330.35 422.41 L330.6 422.5 L330.85 422.43 L331.1 422.21 L331.35 421.89 L331.6 421.5 L331.85 421.11 L332.1 420.77 L332.35 420.54 L332.6 420.45 L332.85 420.5 L333.1 420.69 L333.35 420.98 L333.6 421.34 L333.85 421.69 L334.1 421.99 L334.35 422.17 L334.6 422.22 L334.85 422.11 L335.1 421.86 L335.35 421.49 L335.6 421.06 L335.85 420.63 L336.1 420.25 L336.35 419.96 L336.6 419.82 L336.85 419.82 L337.1 419.96 L337.35 420.21 L337.6 420.52 L337.85 420.83 L338.1 421.09 L338.35 421.24 L338.6 421.25 L338.85 421.1 L339.1 420.81 L339.35 420.41 L339.6 419.94 L339.85 419.46 L340.1 419.03 L340.35 418.7 L340.6 418.51 L340.85 418.46 L341.1 418.56 L341.35 418.76 L341.6 419.03 L341.85 419.3 L342.1 419.51 L342.35 419.63 L342.6 419.6 L342.85 419.42 L343.1 419.09 L343.35 418.65 L343.6 418.14 L343.85 417.62 L344.1 417.15 L344.35 416.78 L344.6 416.54 L344.85 416.45 L345.1 416.5 L345.35 416.66 L345.6 416.89 L345.85 417.12 L346.1 417.3 L346.35 417.38 L346.6 417.32 L346.85 417.11 L347.1 416.75 L347.35 416.28 L347.6 415.73 L347.85 415.17 L348.1 414.66 L348.35 414.25 L348.6 413.97 L348.85 413.83 L349.1 413.84 L349.35 413.97 L349.6 414.15 L349.85 414.35 L350.1 414.5 L350.35 414.55 L350.6 414.47 L350.85 414.23 L351.1 413.84 L351.35 413.33 L351.6 412.76 L351.85 412.17 L352.1 411.62 L352.35 411.17 L352.6 410.85 L352.85 410.68 L353.1 410.65 L353.35 410.74 L353.6 410.9 L353.85 411.07 L354.1 411.19 L354.35 411.21 L354.6 411.1 L354.85 410.84 L355.1 410.43 L355.35 409.9 L355.6 409.3 L355.85 408.68 L356.1 408.1 L356.35 407.62 L356.6 407.27 L356.85 407.07 L357.1 407.01 L357.35 407.07 L357.6 407.2 L357.85 407.34 L358.1 407.44 L358.35 407.45 L358.6 407.32 L358.85 407.04 L359.1 406.61 L359.35 406.06 L359.6 405.44 L359.85 404.8 L360.1 404.2 L360.35 403.69 L360.6 403.31 L360.85 403.08 L361.1 403 L361.35 403.03 L361.6 403.14 L361.85 403.26 L362.1 403.35 L362.35 403.34 L362.6 403.2 L362.85 402.91 L363.1 402.47 L363.35 401.91 L363.6 401.27 L363.85 400.61 L364.1 399.99 L364.35 399.47 L364.6 399.07 L364.85 398.82 L365.1 398.71 L365.35 398.73 L365.6 398.82 L365.85 398.94 L366.1 399.01 L366.35 399 L366.6 398.85 L366.85 398.55 L367.1 398.11 L367.35 397.54 L367.6 396.9 L367.85 396.23 L368.1 395.6 L368.35 395.06 L368.6 394.65 L368.85 394.38 L369.1 394.27 L369.35 394.27 L369.6 394.36 L369.85 394.47 L370.1 394.54 L370.35 394.52 L370.6 394.38 L370.85 394.08 L371.1 393.64 L371.35 393.08 L371.6 392.43 L371.85 391.76 L372.1 391.12 L372.35 390.58 L372.6 390.16 L372.85 389.89 L373.1 389.77 L373.35 389.77 L373.6 389.85 L373.85 389.96 L374.1 390.04 L374.35 390.03 L374.6 389.89 L374.85 389.6 L375.1 389.17 L375.35 388.61 L375.6 387.97 L375.85 387.31 L376.1 386.68 L376.35 386.13 L376.6 385.71 L376.85 385.44 L377.1 385.32 L377.35 385.32 L377.6 385.41 L377.85 385.53 L378.1 385.62 L378.35 385.62 L378.6 385.5 L378.85 385.23 L379.1 384.81 L379.35 384.27 L379.6 383.64 L379.85 382.99 L380.1 382.36 L380.35 381.82 L380.6 381.41 L380.85 381.15 L381.1 381.04 L381.35 381.05 L381.6 381.15 L381.85 381.28 L382.1 381.39 L382.35 381.41 L382.6 381.31 L382.85 381.06 L383.1 380.67 L383.35 380.14 L383.6 379.54 L383.85 378.9 L384.1 378.29 L384.35 377.77 L384.6 377.37 L384.85 377.12 L385.1 377.02 L385.35 377.05 L385.6 377.17 L385.85 377.32 L386.1 377.45 L386.35 377.5 L386.6 377.42 L386.85 377.2 L387.1 376.84 L387.35 376.34 L387.6 375.76 L387.85 375.15 L388.1 374.56 L388.35 374.06 L388.6 373.68 L388.85 373.45 L389.1 373.37 L389.35 373.42 L389.6 373.56 L389.85 373.74 L390.1 373.9 L390.35 373.98 L390.6 373.94 L390.85 373.76 L391.1 373.42 L391.35 372.96 L391.6 372.41 L391.85 371.83 L392.1 371.27 L392.35 370.79 L392.6 370.44 L392.85 370.23 L393.1 370.18 L393.35 370.25 L393.6 370.43 L393.85 370.64 L394.1 370.83 L394.35 370.94 L394.6 370.94 L394.85 370.8 L395.1 370.5 L395.35 370.08 L395.6 369.57 L395.85 369.02 L396.1 368.49 L396.35 368.04 L396.6 367.72 L396.85 367.54 L397.1 367.52 L397.35 367.62 L397.6 367.83 L397.85 368.08 L398.1 368.31 L398.35 368.46 L398.6 368.5 L398.85 368.4 L399.1 368.15 L399.35 367.77 L399.6 367.3 L399.85 366.79 L400.1 366.3 L400.35 365.88 L400.6 365.59 L400.85 365.44 L401.1 365.45 L401.35 365.6 L401.6 365.84 L401.85 366.12 L402.1 366.39 L402.35 366.6 L402.6 366.68 L402.85 366.63 L403.1 366.42 L403.35 366.09 L403.6 365.66 L403.85 365.19 L404.1 364.74 L404.35 364.36 L404.6 364.1 L404.85 364 L405.1 364.04 L405.35 364.22 L405.6 364.5 L405.85 364.83 L406.1 365.14 L406.35 365.39 L406.6 365.52 L406.85 365.52 L407.1 365.36 L407.35 365.07 L407.6 364.69 L407.85 364.26 L408.1 363.85 L408.35 363.52 L408.6 363.3 L408.85 363.23 L409.1 363.31 L409.35 363.53 L409.6 363.85 L409.85 364.22 L410.1 364.58 L410.35 364.88 L410.6 365.06 L410.85 365.1 L411.1 364.99 L411.35 364.75 L411.6 364.42 L411.85 364.04 L412.1 363.67 L412.35 363.37 L412.6 363.19 L412.85 363.16 L413.1 363.28 L413.35 363.54 L413.6 363.9 L413.85 364.31 L414.1 364.72 L414.35 365.06 L414.6 365.3 L414.85 365.39 L415.1 365.33 L415.35 365.14 L415.6 364.85 L415.85 364.51 L416.1 364.19 L416.35 363.93 L416.6 363.79 L416.85 363.79 L417.1 363.95 L417.35 364.25 L417.6 364.65 L417.85 365.11 L418.1 365.56 L418.35 365.95 L418.6 366.23 L418.85 366.37 L419.1 366.36 L419.35 366.22 L419.6 365.98 L419.85 365.68 L420.1 365.4 L420.35 365.18 L420.6 365.08 L420.85 365.12 L421.1 365.31 L421.35 365.64 L421.6 366.08 L421.85 366.58 L422.1 367.08 L422.35 367.51 L422.6 367.84 L422.85 368.02 L423.1 368.06 L423.35 367.97 L423.6 367.77 L423.85 367.51 L424.1 367.27 L424.35 367.09 L424.6 367.02 L424.85 367.09 L425.1 367.32 L425.35 367.69 L425.6 368.16 L425.85 368.7 L426.1 369.23 L426.35 369.71 L426.6 370.08 L426.85 370.31 L427.1 370.39 L427.35 370.34 L427.6 370.18 L427.85 369.97 L428.1 369.76 L428.35 369.61 L428.6 369.57 L428.85 369.67 L429.1 369.93 L429.35 370.33 L429.6 370.84 L429.85 371.4 L430.1 371.97 L430.35 372.49 L430.6 372.9 L430.85 373.17 L431.1 373.29 L431.35 373.28 L431.6 373.15 L431.85 372.98 L432.1 372.8 L432.35 372.68 L432.6 372.67 L432.85 372.8 L433.1 373.08 L433.35 373.5 L433.6 374.04 L433.85 374.64 L434.1 375.24 L434.35 375.79 L434.6 376.23 L434.85 376.54 L435.1 376.69 L435.35 376.71 L435.6 376.62 L435.85 376.47 L436.1 376.32 L436.35 376.22 L436.6 376.23 L436.85 376.38 L437.1 376.69 L437.35 377.13 L437.6 377.69 L437.85 378.31 L438.1 378.94 L438.35 379.52 L438.6 379.99 L438.85 380.33 L439.1 380.51 L439.35 380.56 L439.6 380.49 L439.85 380.37 L440.1 380.24 L440.35 380.16 L440.6 380.19 L440.85 380.35 L441.1 380.67 L441.35 381.13 L441.6 381.7 L441.85 382.34 L442.1 382.99 L442.35 383.59 L442.6 384.08 L442.85 384.44 L443.1 384.65 L443.35 384.72 L443.6 384.68 L443.85 384.57 L444.1 384.45 L444.35 384.39 L444.6 384.43 L444.85 384.6 L445.1 384.92 L445.35 385.39 L445.6 385.98 L445.85 386.63 L446.1 387.29 L446.35 387.9 L446.6 388.41 L446.85 388.79 L447.1 389.02 L447.35 389.1 L447.6 389.07 L447.85 388.97 L448.1 388.87 L448.35 388.81 L448.6 388.85 L448.85 389.02 L449.1 389.35 L449.35 389.82 L449.6 390.41 L449.85 391.06 L450.1 391.73 L450.35 392.35 L450.6 392.87 L450.85 393.26 L451.1 393.5 L451.35 393.59 L451.6 393.57 L451.85 393.48 L452.1 393.37 L452.35 393.31 L452.6 393.35 L452.85 393.52 L453.1 393.84 L453.35 394.3 L453.6 394.89 L453.85 395.54 L454.1 396.21 L454.35 396.83 L454.6 397.35 L454.85 397.74 L455.1 397.98 L455.35 398.08 L455.6 398.06 L455.85 397.96 L456.1 397.85 L456.35 397.78 L456.6 397.81 L456.85 397.97 L457.1 398.28 L457.35 398.73 L457.6 399.3 L457.85 399.95 L458.1 400.61 L458.35 401.22 L458.6 401.74 L458.85 402.13 L459.1 402.37 L459.35 402.46 L459.6 402.43 L459.85 402.32 L460.1 402.2 L460.35 402.12 L460.6 402.13 L460.85 402.27 L461.1 402.56 L461.35 402.99 L461.6 403.55 L461.85 404.17 L462.1 404.82 L462.35 405.42 L462.6 405.93 L462.85 406.31 L463.1 406.54 L463.35 406.62 L463.6 406.57 L463.85 406.45 L464.1 406.31 L464.35 406.21 L464.6 406.2 L464.85 406.31 L465.1 406.58 L465.35 406.99 L465.6 407.52 L465.85 408.12 L466.1 408.75 L466.35 409.33 L466.6 409.82 L466.85 410.19 L467.1 410.4 L467.35 410.46 L467.6 410.4 L467.85 410.26 L468.1 410.09 L468.35 409.96 L468.6 409.92 L468.85 410 L469.1 410.24 L469.35 410.61 L469.6 411.11 L469.85 411.69 L470.1 412.29 L470.35 412.85 L470.6 413.32 L470.85 413.66 L471.1 413.85 L471.35 413.89 L471.6 413.8 L471.85 413.63 L472.1 413.44 L472.35 413.27 L472.6 413.2 L472.85 413.25 L473.1 413.44 L473.35 413.78 L473.6 414.25 L473.85 414.79 L474.1 415.36 L474.35 415.89 L474.6 416.33 L474.85 416.64 L475.1 416.81 L475.35 416.82 L475.6 416.7 L475.85 416.5 L476.1 416.27 L476.35 416.07 L476.6 415.96 L476.85 415.96 L477.1 416.12 L477.35 416.42 L477.6 416.85 L477.85 417.35 L478.1 417.88 L478.35 418.38 L478.6 418.79 L478.85 419.07 L479.1 419.2 L479.35 419.18 L479.6 419.03 L479.85 418.79 L480.1 418.53 L480.35 418.29 L480.6 418.13 L480.85 418.09 L481.1 418.2 L481.35 418.46 L481.6 418.84 L481.85 419.3 L482.1 419.79 L482.35 420.25 L482.6 420.63 L482.85 420.87 L483.1 420.97 L483.35 420.91 L483.6 420.73 L483.85 420.46 L484.1 420.15 L484.35 419.86 L484.6 419.66 L484.85 419.58 L485.1 419.64 L485.35 419.85 L485.6 420.18 L485.85 420.6 L486.1 421.05 L486.35 421.47 L486.6 421.81 L486.85 422.02 L487.1 422.07 L487.35 421.98 L487.6 421.76 L487.85 421.44 L488.1 421.09 L488.35 420.76 L488.6 420.51 L488.85 420.38 L489.1 420.39 L489.35 420.55 L489.6 420.84 L489.85 421.21 L490.1 421.62 L490.35 422 L490.6 422.29 L490.85 422.46 L491.1 422.49 L491.35 422.36 L491.6 422.09 L491.85 421.74 L492.1 421.34 L492.35 420.97 L492.6 420.67 L492.85 420.49 L493.1 420.45 L493.35 420.56 L493.6 420.8 L493.85 421.12 L494.1 421.48 L494.35 421.82 L494.6 422.08 L494.85 422.21 L495.1 422.19 L495.35 422.02 L495.6 421.72 L495.85 421.33 L496.1 420.89 L496.35 420.47 L496.6 420.12 L496.85 419.89 L497.1 419.8 L497.35 419.86 L497.6 420.05 L497.85 420.33 L498.1 420.65 L498.35 420.95 L498.6 421.16 L498.85 421.26 L499.1 421.21 L499.35 421 L499.6 420.66 L499.85 420.22 L500.1 419.74 L500.35 419.28 L500.6 418.88 L500.85 418.6 L501.1 418.47 L501.35 418.48 L501.6 418.63 L501.85 418.86 L502.1 419.14 L502.35 419.39 L502.6 419.57 L502.85 419.63 L503.1 419.55 L503.35 419.3 L503.6 418.93 L503.85 418.45 L504.1 417.93 L504.35 417.43 L504.6 416.99 L504.85 416.67 L505.1 416.49 L505.35 416.45 L505.6 416.55 L505.85 416.75 L506.1 416.98 L506.35 417.2 L506.6 417.35 L506.85 417.37 L507.1 417.25 L507.35 416.98 L507.6 416.57 L507.85 416.06 L508.1 415.51 L508.35 414.96 L508.6 414.48 L508.85 414.12 L509.1 413.9 L509.35 413.82 L509.6 413.88 L509.85 414.04 L510.1 414.24 L510.35 414.42 L510.6 414.54 L510.85 414.54 L511.1 414.39 L511.35 414.09 L511.6 413.65 L511.85 413.11 L512.1 412.52 L512.35 411.94 L512.6 411.43 L512.85 411.03 L513.1 410.76 L513.35 410.65 L513.6 410.68 L513.85 410.8 L514.1 410.97 L514.35 411.12 L514.6 411.21 L514.85 411.19 L515.1 411.02 L515.35 410.69 L515.6 410.23 L515.85 409.67 L516.1 409.05 L516.35 408.44 L516.6 407.9 L516.85 407.46 L517.1 407.17 L517.35 407.03 L517.6 407.02 L517.85 407.11 L518.1 407.25 L518.35 407.39 L518.6 407.46 L518.85 407.41 L519.1 407.22 L519.35 406.88 L519.6 406.4 L519.85 405.82 L520.1 405.18 L520.35 404.55 L520.6 403.98 L520.85 403.52 L521.1 403.2 L521.35 403.03 L521.6 403 L521.85 403.07 L522.1 403.19 L522.35 403.31 L522.6 403.36 L522.85 403.3 L523.1 403.1 L523.35 402.75 L523.6 402.26 L523.85 401.66 L524.1 401.01 L524.35 400.36 L524.6 399.77 L524.85 399.29 L525.1 398.95 L525.35 398.76 L525.6 398.71 L525.85 398.76 L526.1 398.87 L526.35 398.98 L526.6 399.02 L526.85 398.96 L527.1 398.75 L527.35 398.39 L527.6 397.9 L527.85 397.29 L528.1 396.63 L528.35 395.97 L528.6 395.37 L528.85 394.88 L529.1 394.52 L529.35 394.32 L529.6 394.26 L529.85 394.3 L530.1 394.4 L530.35 394.5 L530.6 394.55 L530.85 394.48 L531.1 394.28 L531.35 393.92 L531.6 393.43 L531.85 392.82 L532.1 392.16 L532.35 391.5 L532.6 390.89 L532.85 390.39 L533.1 390.03 L533.35 389.82 L533.6 389.75 L533.85 389.79 L534.1 389.9 L534.35 390 L534.6 390.05 L534.85 389.99 L535.1 389.79 L535.35 389.45 L535.6 388.96 L535.85 388.37 L536.1 387.71 L536.35 387.05 L536.6 386.44 L536.85 385.94 L537.1 385.58 L537.35 385.37 L537.6 385.31 L537.85 385.35 L538.1 385.46 L538.35 385.57 L538.6 385.63 L538.85 385.59 L539.1 385.41 L539.35 385.08 L539.6 384.61 L539.85 384.02 L540.1 383.38 L540.35 382.73 L540.6 382.13 L540.85 381.64 L541.1 381.29 L541.35 381.09 L541.6 381.03 L541.85 381.08 L542.1 381.2 L542.35 381.33 L542.6 381.41 L542.85 381.39 L543.1 381.23 L543.35 380.92 L543.6 380.47 L543.85 379.91 L544.1 379.28 L544.35 378.65 L544.6 378.07 L544.85 377.59 L545.1 377.25 L545.35 377.06 L545.6 377.02 L545.85 377.09 L546.1 377.23 L546.35 377.38 L546.6 377.48 L546.85 377.48 L547.1 377.35 L547.35 377.08 L547.6 376.65 L547.85 376.12 L548.1 375.52 L548.35 374.91 L548.6 374.35 L548.85 373.89 L549.1 373.57 L549.35 373.4 L549.6 373.38 L549.85 373.47 L550.1 373.63 L550.35 373.81 L550.6 373.94 L550.85 373.98 L551.1 373.88 L551.35 373.64 L551.6 373.25 L551.85 372.75 L552.1 372.18 L552.35 371.6 L552.6 371.07 L552.85 370.63 L553.1 370.34 L553.35 370.19 L553.6 370.19 L553.85 370.31 L554.1 370.51 L554.35 370.72 L554.6 370.89 L554.85 370.96 L555.1 370.9 L555.35 370.7 L555.6 370.35 L555.85 369.88 L556.1 369.35 L556.35 368.8 L556.6 368.3 L556.85 367.9 L557.1 367.63 L557.35 367.51 L557.6 367.54 L557.85 367.7 L558.1 367.93 L558.35 368.17 L558.6 368.38 L558.85 368.49 L559.1 368.48 L559.35 368.32 L559.6 368.01 L559.85 367.59 L560.1 367.09 L560.35 366.58 L560.6 366.12 L560.85 365.75 L561.1 365.51 L561.35 365.43 L561.6 365.5 L561.85 365.68 L562.1 365.95 L562.35 366.24 L562.6 366.49 L562.85 366.65 L563.1 366.68 L563.35 366.56 L563.6 366.3 L563.85 365.92 L564.1 365.47 L564.35 365 L564.6 364.57 L564.85 364.24 L565.1 364.04 L565.35 364 L565.6 364.1 L565.85 364.32 L566.1 364.63 L566.35 364.96 L566.6 365.25 L566.85 365.46 L567.1 365.54 L567.35 365.47 L567.6 365.26 L567.85 364.93 L568.1 364.52 L568.35 364.1 L568.6 363.71 L568.85 363.41 L569.1 363.25 L569.35 363.24 L569.6 363.38 L569.85 363.65 L570.1 364 L570.35 364.37 L570.6 364.71 L570.85 364.96 L571.1 365.09 L571.35 365.08 L571.6 364.91 L571.85 364.63 L572.1 364.27 L572.35 363.89 L572.6 363.54 L572.85 363.29 L573.1 363.16 L573.35 363.19 L573.6 363.37 L573.85 363.67 L574.1 364.06 L574.35 364.48 L574.6 364.87 L574.85 365.17 L575.1 365.35 L575.35 365.38 L575.6 365.27 L575.85 365.03 L576.1 364.72 L576.35 364.38 L576.6 364.08 L576.85 363.86 L577.1 363.77 L577.35 363.84 L577.6 364.06 L577.85 364.4 L578.1 364.83 L578.35 365.29 L578.6 365.73 L578.85 366.08 L579.1 366.3 L579.35 366.38 L579.6 366.32 L579.85 366.13 L580.1 365.86 L580.35 365.57 L580.6 365.3 L580.85 365.12 L581.1 365.07 L581.35 365.18 L581.6 365.43 L581.85 365.81 L582.1 366.28 L582.35 366.78 L582.6 367.26 L582.85 367.66 L583.1 367.93 L583.35 368.06 L583.6 368.04 L583.85 367.9 L584.1 367.67 L584.35 367.41 L584.6 367.19 L584.85 367.04 L585.1 367.03 L585.35 367.16 L585.6 367.45 L585.85 367.87 L586.1 368.37 L586.35 368.91 L586.6 369.43 L586.85 369.87 L587.1 370.19 L587.35 370.36 L587.6 370.38 L587.85 370.28 L588.1 370.1 L588.35 369.88 L588.6 369.69 L588.85 369.58 L589.1 369.59 L589.35 369.76 L589.6 370.07 L589.85 370.52 L590.1 371.06 L590.35 371.64 L590.6 372.19 L590.85 372.67 L591.1 373.03 L591.35 373.24 L591.6 373.3 L591.85 373.24 L592.1 373.09 L592.35 372.9 L592.6 372.74 L592.85 372.66 L593.1 372.7 L593.35 372.89 L593.6 373.23 L593.85 373.71 L594.1 374.27 L594.35 374.88 L594.6 375.47 L594.85 375.98 L595.1 376.37 L595.35 376.62 L595.6 376.72 L595.85 376.69 L596.1 376.57 L596.35 376.41 L596.6 376.27 L596.85 376.21 L597.1 376.28 L597.35 376.49 L597.6 376.85 L597.85 377.35 L598.1 377.94 L598.35 378.57 L598.6 379.18 L598.85 379.72 L599.1 380.14 L599.35 380.42 L599.6 380.55 L599.85 380.54 L600.1 380.45 L600.35 380.31 L600.6 380.2 L600.85 380.16 L601.1 380.23 L601.35 380.46 L601.6 380.84 L601.85 381.35 L602.1 381.95 L602.35 382.6 L602.6 383.24 L602.85 383.8 L603.1 384.25 L603.35 384.55 L603.6 384.7 L603.85 384.72 L604.1 384.64 L604.35 384.52 L604.6 384.42 L604.85 384.39 L605.1 384.48 L605.35 384.71 L605.6 385.1 L605.85 385.62 L606.1 386.23 L606.35 386.89 L606.6 387.54 L606.85 388.12 L607.1 388.58 L607.35 388.9 L607.6 389.07 L607.85 389.1 L608.1 389.04 L608.35 388.93 L608.6 388.83 L608.85 388.81 L609.1 388.9 L609.35 389.14 L609.6 389.52 L609.85 390.04 L610.1 390.67 L610.35 391.33 L610.6 391.99 L610.85 392.57 L611.1 393.05 L611.35 393.37 L611.6 393.55 L611.85 393.59 L612.1 393.54 L612.35 393.43 L612.6 393.34 L612.85 393.31 L613.1 393.4 L613.35 393.63 L613.6 394.01 L613.85 394.53 L614.1 395.14 L614.35 395.81 L614.6 396.46 L614.85 397.05 L615.1 397.53 L615.35 397.86 L615.6 398.04 L615.85 398.08 L616.1 398.02 L616.35 397.92 L616.6 397.81 L616.85 397.78 L617.1 397.85 L617.35 398.07 L617.6 398.44 L617.85 398.95 L618.1 399.55 L618.35 400.21 L618.6 400.86 L618.85 401.44 L619.1 401.92 L619.35 402.24 L619.6 402.42 L619.85 402.46 L620.1 402.39 L620.35 402.27 L620.6 402.16 L620.85 402.11 L621.1 402.17 L621.35 402.37 L621.6 402.72 L621.85 403.2 L622.1 403.79 L622.35 404.43 L622.6 405.07 L622.85 405.64 L623.1 406.1 L623.35 406.42 L623.6 406.59 L623.85 406.61 L624.1 406.53 L624.35 406.4 L624.6 406.26 L624.85 406.19 L625.1 406.23 L625.35 406.4 L625.6 406.72 L625.85 407.19 L626.1 407.75 L626.35 408.37 L626.6 408.99 L626.85 409.54 L627.1 409.99 L627.35 410.29 L627.6 410.44 L627.85 410.45 L628.1 410.35 L628.35 410.19 L628.6 410.03 L628.85 409.93 L629.1 409.93 L629.35 410.08 L629.6 410.37 L629.85 410.8 L630.1 411.34 L630.35 411.93 L630.6 412.52 L630.85 413.05 L631.1 413.47 L631.35 413.75 L631.6 413.88 L631.85 413.86 L632.1 413.74 L632.35 413.55 L632.6 413.36 L632.85 413.23 L633.1 413.2 L633.35 413.31 L633.6 413.56 L633.85 413.96 L634.1 414.46 L634.35 415.02 L634.6 415.58 L634.85 416.08 L635.1 416.47 L635.35 416.73 L635.6 416.83 L635.85 416.78 L636.1 416.63 L636.35 416.41 L636.6 416.18 L636.85 416.01 L637.1 415.94 L637.35 416.01 L637.6 416.22 L637.85 416.58 L638.1 417.04 L638.35 417.56 L638.6 418.09 L638.85 418.55 L639.1 418.92 L639.35 419.14 L639.6 419.21 L639.85 419.13 L640.1 418.94 L640.35 418.69 L640.6 418.42 L640.85 418.21 L641.1 418.1 L641.35 418.12 L641.6 418.29 L641.85 418.6 L642.1 419.02 L642.35 419.5 L642.6 419.98 L642.85 420.42 L643.1 420.74 L643.35 420.93 L643.6 420.97 L643.85 420.85 L644.1 420.63 L644.35 420.33 L644.6 420.03 L644.85 419.77 L645.1 419.61 L645.35 419.58 L645.6 419.71 L645.85 419.97 L646.1 420.34 L646.35 420.78 L646.6 421.22 L646.85 421.62 L647.1 421.91 L647.35 422.06 L647.6 422.06 L647.85 421.91 L648.1 421.64 L648.35 421.3 L648.6 420.96 L648.85 420.65 L649.1 420.44 L649.35 420.37 L649.6 420.44 L649.85 420.66 L650.1 420.98 L650.35 421.37 L650.6 421.78 L650.85 422.13 L651.1 422.38 L651.35 422.49 L651.6 422.45 L651.85 422.26 L652.1 421.96 L652.35 421.58 L652.6 421.19 L652.85 420.83 L653.1 420.58 L653.35 420.45 L653.6 420.48 L653.85 420.64 L654.1 420.92 L654.35 421.27 L654.6 421.62 L654.85 421.93 L655.1 422.15 L655.35 422.22 L655.6 422.14 L655.85 421.92 L656.1 421.57 L656.35 421.15 L656.6 420.71 L656.85 420.32 L657.1 420.01 L657.35 419.84 L657.6 419.81 L657.85 419.93 L658.1 420.16 L658.35 420.46 L658.6 420.77 L658.85 421.04 L659.1 421.22 L659.35 421.26 L659.6 421.14 L659.85 420.88 L660.1 420.49 L660.35 420.03 L660.6 419.55 L660.85 419.11 L661.1 418.76 L661.35 418.53 L661.6 418.46 L661.85 418.53 L662.1 418.71 L662.35 418.97 L662.6 419.24 L662.85 419.48 L663.1 419.61 L663.35 419.62 L663.6 419.47 L663.85 419.17 L664.1 418.75 L664.35 418.25 L664.6 417.73 L664.85 417.24 L665.1 416.84 L665.35 416.58 L665.6 416.45 L665.85 416.48 L666.1 416.62 L666.35 416.84 L666.6 417.07 L666.85 417.27 L667.1 417.37 L667.35 417.34 L667.6 417.16 L667.85 416.83 L668.1 416.38 L668.35 415.84 L668.6 415.28 L668.85 414.76 L669.1 414.32 L669.35 414.01 L669.6 413.85 L669.85 413.83 L670.1 413.93 L670.35 414.11 L670.6 414.32 L670.85 414.48 L671.1 414.55 L671.35 414.49 L671.6 414.29 L671.85 413.93 L672.1 413.44 L672.35 412.88 L672.6 412.28 L672.85 411.72 L673.1 411.25 L673.35 410.9 L673.6 410.7 L673.85 410.65 L674.1 410.72 L674.35 410.86 L674.6 411.03 L674.85 411.17 L675.1 411.22 L675.35 411.14 L675.6 410.91 L675.85 410.52 L676.1 410.02 L676.35 409.42 L676.6 408.8 L676.85 408.21 L677.1 407.71 L677.35 407.33 L677.6 407.09 L677.85 407.01 L678.1 407.05 L678.35 407.17 L678.6 407.31 L678.85 407.43 L679.1 407.45 L679.35 407.35 L679.6 407.11 L679.85 406.71 L680.1 406.18 L680.35 405.57 L680.6 404.92 L680.85 404.31 L681.1 403.78 L681.35 403.37 L681.6 403.11 L681.85 403 L682.1 403.01 L682.35 403.11 L682.6 403.24 L682.85 403.34 L683.1 403.35 L683.35 403.24 L683.6 402.98 L683.85 402.57 L684.1 402.03 L684.35 401.4 L684.6 400.74 L684.85 400.11 L685.1 399.56 L685.35 399.13 L685.6 398.85 L685.85 398.72 L686.1 398.72 L686.35 398.8 L686.6 398.92 L686.85 399 L687.1 399.01 L687.35 398.89 L687.6 398.63 L687.85 398.21 L688.1 397.67 L688.35 397.03 L688.6 396.36 L688.85 395.72 L689.1 395.16 L689.35 394.72 L689.5 394.52" fill="none" stroke="#ee1010" stroke-width="2.8" stroke-linejoin="round"/>
<path d="M49.1 399.91 L49.6 399.7 L50.1 399.5 L50.6 399.29 L51.1 399.07 L51.6 398.86 L52.1 398.64 L52.6 398.42 L53.1 398.2 L53.6 397.98 L54.1 397.76 L54.6 397.53 L55.1 397.3 L55.6 397.07 L56.1 396.84 L56.6 396.61 L57.1 396.37 L57.6 396.14 L58.1 395.9 L58.6 395.66 L59.1 395.42 L59.6 395.18 L60.1 394.94 L60.6 394.7 L61.1 394.46 L61.6 394.22 L62.1 393.97 L62.6 393.73 L63.1 393.49 L63.6 393.24 L64.1 393 L64.6 392.75 L65.1 392.51 L65.6 392.27 L66.1 392.02 L66.6 391.78 L67.1 391.54 L67.6 391.29 L68.1 391.05 L68.6 390.81 L69.1 390.57 L69.6 390.33 L70.1 390.1 L70.6 389.86 L71.1 389.62 L71.6 389.39 L72.1 389.16 L72.6 388.92 L73.1 388.69 L73.6 388.47 L74.1 388.24 L74.6 388.02 L75.1 387.79 L75.6 387.57 L76.1 387.35 L76.6 387.14 L77.1 386.92 L77.6 386.71 L78.1 386.5 L78.6 386.29 L79.1 386.09 L79.6 385.89 L80.1 385.69 L80.6 385.49 L81.1 385.3 L81.6 385.11 L82.1 384.92 L82.6 384.73 L83.1 384.55 L83.6 384.37 L84.1 384.2 L84.6 384.03 L85.1 383.86 L85.6 383.69 L86.1 383.53 L86.6 383.38 L87.1 383.22 L87.6 383.07 L88.1 382.93 L88.6 382.78 L89.1 382.64 L89.6 382.51 L90.1 382.38 L90.6 382.25 L91.1 382.13 L91.6 382.01 L92.1 381.9 L92.6 381.79 L93.1 381.68 L93.6 381.58 L94.1 381.48 L94.6 381.39 L95.1 381.3 L95.6 381.22 L96.1 381.14 L96.6 381.06 L97.1 380.99 L97.6 380.93 L98.1 380.87 L98.6 380.81 L99.1 380.76 L99.6 380.71 L100.1 380.67 L100.6 380.63 L101.1 380.6 L101.6 380.57 L102.1 380.55 L102.6 380.53 L103.1 380.51 L103.6 380.5 L104.1 380.5 L104.6 380.5 L105.1 380.51 L105.6 380.52 L106.1 380.53 L106.6 380.55 L107.1 380.57 L107.6 380.6 L108.1 380.64 L108.6 380.67 L109.1 380.72 L109.6 380.76 L110.1 380.82 L110.6 380.87 L111.1 380.94 L111.6 381 L112.1 381.07 L112.6 381.15 L113.1 381.23 L113.6 381.31 L114.1 381.4 L114.6 381.49 L115.1 381.59 L115.6 381.69 L116.1 381.8 L116.6 381.91 L117.1 382.02 L117.6 382.14 L118.1 382.27 L118.6 382.39 L119.1 382.52 L119.6 382.66 L120.1 382.8 L120.6 382.94 L121.1 383.09 L121.6 383.24 L122.1 383.39 L122.6 383.55 L123.1 383.71 L123.6 383.88 L124.1 384.05 L124.6 384.22 L125.1 384.39 L125.6 384.57 L126.1 384.75 L126.6 384.94 L127.1 385.13 L127.6 385.32 L128.1 385.51 L128.6 385.71 L129.1 385.91 L129.6 386.11 L130.1 386.32 L130.6 386.52 L131.1 386.73 L131.6 386.95 L132.1 387.16 L132.6 387.38 L133.1 387.6 L133.6 387.82 L134.1 388.04 L134.6 388.27 L135.1 388.49 L135.6 388.72 L136.1 388.95 L136.6 389.18 L137.1 389.42 L137.6 389.65 L138.1 389.89 L138.6 390.12 L139.1 390.36 L139.6 390.6 L140.1 390.84 L140.6 391.08 L141.1 391.32 L141.6 391.57 L142.1 391.81 L142.6 392.05 L143.1 392.29 L143.6 392.54 L144.1 392.78 L144.6 393.03 L145.1 393.27 L145.6 393.51 L146.1 393.76 L146.6 394 L147.1 394.24 L147.6 394.49 L148.1 394.73 L148.6 394.97 L149.1 395.21 L149.6 395.45 L150.1 395.69 L150.6 395.93 L151.1 396.16 L151.6 396.4 L152.1 396.63 L152.6 396.87 L153.1 397.1 L153.6 397.33 L154.1 397.56 L154.6 397.78 L155.1 398.01 L155.6 398.23 L156.1 398.45 L156.6 398.67 L157.1 398.89 L157.6 399.1 L158.1 399.31 L158.6 399.52 L159.1 399.73 L159.6 399.93 L160.1 400.13 L160.6 400.33 L161.1 400.53 L161.6 400.72 L162.1 400.91 L162.6 401.1 L163.1 401.28 L163.6 401.47 L164.1 401.64 L164.6 401.82 L165.1 401.99 L165.6 402.16 L166.1 402.32 L166.6 402.48 L167.1 402.64 L167.6 402.79 L168.1 402.94 L168.6 403.09 L169.1 403.23 L169.6 403.37 L170.1 403.5 L170.6 403.63 L171.1 403.76 L171.6 403.88 L172.1 404 L172.6 404.11 L173.1 404.22 L173.6 404.33 L174.1 404.43 L174.6 404.53 L175.1 404.62 L175.6 404.71 L176.1 404.79 L176.6 404.87 L177.1 404.94 L177.6 405.01 L178.1 405.08 L178.6 405.14 L179.1 405.19 L179.6 405.25 L180.1 405.29 L180.6 405.33 L181.1 405.37 L181.6 405.4 L182.1 405.43 L182.6 405.46 L183.1 405.47 L183.6 405.49 L184.1 405.5 L184.6 405.5 L185.1 405.5 L185.6 405.49 L186.1 405.48 L186.6 405.47 L187.1 405.45 L187.6 405.42 L188.1 405.39 L188.6 405.36 L189.1 405.32 L189.6 405.28 L190.1 405.23 L190.6 405.18 L191.1 405.12 L191.6 405.06 L192.1 404.99 L192.6 404.92 L193.1 404.84 L193.6 404.76 L194.1 404.68 L194.6 404.59 L195.1 404.5 L195.6 404.4 L196.1 404.3 L196.6 404.19 L197.1 404.08 L197.6 403.96 L198.1 403.84 L198.6 403.72 L199.1 403.59 L199.6 403.46 L200.1 403.33 L200.6 403.19 L201.1 403.04 L201.6 402.9 L202.1 402.75 L202.6 402.59 L203.1 402.43 L203.6 402.27 L204.1 402.11 L204.6 401.94 L205.1 401.76 L205.6 401.59 L206.1 401.41 L206.6 401.23 L207.1 401.04 L207.6 400.85 L208.1 400.66 L208.6 400.47 L209.1 400.27 L209.6 400.07 L210.1 399.87 L210.6 399.66 L211.1 399.46 L211.6 399.24 L212.1 399.03 L212.6 398.82 L213.1 398.6 L213.6 398.38 L214.1 398.16 L214.6 397.94 L215.1 397.71 L215.6 397.48 L216.1 397.26 L216.6 397.03 L217.1 396.79 L217.6 396.56 L218.1 396.33 L218.6 396.09 L219.1 395.85 L219.6 395.61 L220.1 395.38 L220.6 395.14 L221.1 394.89 L221.6 394.65 L222.1 394.41 L222.6 394.17 L223.1 393.92 L223.6 393.68 L224.1 393.44 L224.6 393.19 L225.1 392.95 L225.6 392.71 L226.1 392.46 L226.6 392.22 L227.1 391.97 L227.6 391.73 L228.1 391.49 L228.6 391.25 L229.1 391.01 L229.6 390.76 L230.1 390.53 L230.6 390.29 L231.1 390.05 L231.6 389.81 L232.1 389.58 L232.6 389.34 L233.1 389.11 L233.6 388.88 L234.1 388.65 L234.6 388.42 L235.1 388.19 L235.6 387.97 L236.1 387.75 L236.6 387.53 L237.1 387.31 L237.6 387.09 L238.1 386.88 L238.6 386.67 L239.1 386.46 L239.6 386.25 L240.1 386.05 L240.6 385.85 L241.1 385.65 L241.6 385.45 L242.1 385.26 L242.6 385.07 L243.1 384.88 L243.6 384.7 L244.1 384.52 L244.6 384.34 L245.1 384.16 L245.6 383.99 L246.1 383.83 L246.6 383.66 L247.1 383.5 L247.6 383.34 L248.1 383.19 L248.6 383.04 L249.1 382.9 L249.6 382.75 L250.1 382.62 L250.6 382.48 L251.1 382.35 L251.6 382.23 L252.1 382.11 L252.6 381.99 L253.1 381.87 L253.6 381.77 L254.1 381.66 L254.6 381.56 L255.1 381.46 L255.6 381.37 L256.1 381.28 L256.6 381.2 L257.1 381.12 L257.6 381.05 L258.1 380.98 L258.6 380.92 L259.1 380.86 L259.6 380.8 L260.1 380.75 L260.6 380.7 L261.1 380.66 L261.6 380.62 L262.1 380.59 L262.6 380.57 L263.1 380.54 L263.6 380.53 L264.1 380.51 L264.6 380.5 L265.1 380.5 L265.6 380.5 L266.1 380.51 L266.6 380.52 L267.1 380.53 L267.6 380.55 L268.1 380.58 L268.6 380.61 L269.1 380.64 L269.6 380.68 L270.1 380.73 L270.6 380.77 L271.1 380.83 L271.6 380.89 L272.1 380.95 L272.6 381.02 L273.1 381.09 L273.6 381.16 L274.1 381.24 L274.6 381.33 L275.1 381.42 L275.6 381.51 L276.1 381.61 L276.6 381.71 L277.1 381.82 L277.6 381.93 L278.1 382.05 L278.6 382.17 L279.1 382.29 L279.6 382.42 L280.1 382.55 L280.6 382.69 L281.1 382.83 L281.6 382.97 L282.1 383.12 L282.6 383.27 L283.1 383.42 L283.6 383.58 L284.1 383.75 L284.6 383.91 L285.1 384.08 L285.6 384.25 L286.1 384.43 L286.6 384.61 L287.1 384.79 L287.6 384.98 L288.1 385.17 L288.6 385.36 L289.1 385.55 L289.6 385.75 L290.1 385.95 L290.6 386.15 L291.1 386.36 L291.6 386.57 L292.1 386.78 L292.6 386.99 L293.1 387.2 L293.6 387.42 L294.1 387.64 L294.6 387.86 L295.1 388.09 L295.6 388.31 L296.1 388.54 L296.6 388.77 L297.1 389 L297.6 389.23 L298.1 389.46 L298.6 389.7 L299.1 389.93 L299.6 390.17 L300.1 390.41 L300.6 390.65 L301.1 390.89 L301.6 391.13 L302.1 391.37 L302.6 391.61 L303.1 391.86 L303.6 392.1 L304.1 392.34 L304.6 392.59 L305.1 392.83 L305.6 393.08 L306.1 393.32 L306.6 393.56 L307.1 393.81 L307.6 394.05 L308.1 394.29 L308.6 394.54 L309.1 394.78 L309.6 395.02 L310.1 395.26 L310.6 395.5 L311.1 395.74 L311.6 395.98 L312.1 396.21 L312.6 396.45 L313.1 396.68 L313.6 396.91 L314.1 397.14 L314.6 397.37 L315.1 397.6 L315.6 397.83 L316.1 398.05 L316.6 398.27 L317.1 398.49 L317.6 398.71 L318.1 398.93 L318.6 399.14 L319.1 399.35 L319.6 399.56 L320.1 399.77 L320.6 399.97 L321.1 400.17 L321.6 400.37 L322.1 400.57 L322.6 400.76 L323.1 400.95 L323.6 401.14 L324.1 401.32 L324.6 401.5 L325.1 401.68 L325.6 401.85 L326.1 402.02 L326.6 402.19 L327.1 402.35 L327.6 402.51 L328.1 402.67 L328.6 402.82 L329.1 402.97 L329.6 403.12 L330.1 403.26 L330.6 403.4 L331.1 403.53 L331.6 403.66 L332.1 403.79 L332.6 403.91 L333.1 404.02 L333.6 404.14 L334.1 404.25 L334.6 404.35 L335.1 404.45 L335.6 404.55 L336.1 404.64 L336.6 404.72 L337.1 404.81 L337.6 404.88 L338.1 404.96 L338.6 405.03 L339.1 405.09 L339.6 405.15 L340.1 405.21 L340.6 405.26 L341.1 405.3 L341.6 405.34 L342.1 405.38 L342.6 405.41 L343.1 405.44 L343.6 405.46 L344.1 405.48 L344.6 405.49 L345.1 405.5 L345.6 405.5 L346.1 405.5 L346.6 405.49 L347.1 405.48 L347.6 405.46 L348.1 405.44 L348.6 405.42 L349.1 405.39 L349.6 405.35 L350.1 405.31 L350.6 405.27 L351.1 405.22 L351.6 405.17 L352.1 405.11 L352.6 405.05 L353.1 404.98 L353.6 404.91 L354.1 404.83 L354.6 404.75 L355.1 404.66 L355.6 404.57 L356.1 404.48 L356.6 404.38 L357.1 404.28 L357.6 404.17 L358.1 404.06 L358.6 403.94 L359.1 403.82 L359.6 403.7 L360.1 403.57 L360.6 403.44 L361.1 403.3 L361.6 403.16 L362.1 403.01 L362.6 402.87 L363.1 402.71 L363.6 402.56 L364.1 402.4 L364.6 402.24 L365.1 402.07 L365.6 401.9 L366.1 401.73 L366.6 401.55 L367.1 401.37 L367.6 401.19 L368.1 401 L368.6 400.82 L369.1 400.62 L369.6 400.43 L370.1 400.23 L370.6 400.03 L371.1 399.83 L371.6 399.62 L372.1 399.41 L372.6 399.2 L373.1 398.99 L373.6 398.77 L374.1 398.56 L374.6 398.34 L375.1 398.12 L375.6 397.89 L376.1 397.67 L376.6 397.44 L377.1 397.21 L377.6 396.98 L378.1 396.75 L378.6 396.51 L379.1 396.28 L379.6 396.04 L380.1 395.81 L380.6 395.57 L381.1 395.33 L381.6 395.09 L382.1 394.85 L382.6 394.6 L383.1 394.36 L383.6 394.12 L384.1 393.88 L384.6 393.63 L385.1 393.39 L385.6 393.14 L386.1 392.9 L386.6 392.66 L387.1 392.41 L387.6 392.17 L388.1 391.93 L388.6 391.68 L389.1 391.44 L389.6 391.2 L390.1 390.96 L390.6 390.72 L391.1 390.48 L391.6 390.24 L392.1 390 L392.6 389.76 L393.1 389.53 L393.6 389.3 L394.1 389.06 L394.6 388.83 L395.1 388.6 L395.6 388.38 L396.1 388.15 L396.6 387.93 L397.1 387.7 L397.6 387.48 L398.1 387.27 L398.6 387.05 L399.1 386.84 L399.6 386.63 L400.1 386.42 L400.6 386.21 L401.1 386.01 L401.6 385.81 L402.1 385.61 L402.6 385.41 L403.1 385.22 L403.6 385.03 L404.1 384.84 L404.6 384.66 L405.1 384.48 L405.6 384.3 L406.1 384.13 L406.6 383.96 L407.1 383.79 L407.6 383.63 L408.1 383.47 L408.6 383.31 L409.1 383.16 L409.6 383.01 L410.1 382.87 L410.6 382.73 L411.1 382.59 L411.6 382.46 L412.1 382.33 L412.6 382.2 L413.1 382.08 L413.6 381.96 L414.1 381.85 L414.6 381.74 L415.1 381.64 L415.6 381.54 L416.1 381.44 L416.6 381.35 L417.1 381.27 L417.6 381.19 L418.1 381.11 L418.6 381.04 L419.1 380.97 L419.6 380.9 L420.1 380.84 L420.6 380.79 L421.1 380.74 L421.6 380.69 L422.1 380.65 L422.6 380.62 L423.1 380.59 L423.6 380.56 L424.1 380.54 L424.6 380.52 L425.1 380.51 L425.6 380.5 L426.1 380.5 L426.6 380.5 L427.1 380.51 L427.6 380.52 L428.1 380.54 L428.6 380.56 L429.1 380.58 L429.6 380.62 L430.1 380.65 L430.6 380.69 L431.1 380.74 L431.6 380.79 L432.1 380.84 L432.6 380.9 L433.1 380.96 L433.6 381.03 L434.1 381.1 L434.6 381.18 L435.1 381.26 L435.6 381.35 L436.1 381.44 L436.6 381.53 L437.1 381.63 L437.6 381.73 L438.1 381.84 L438.6 381.96 L439.1 382.07 L439.6 382.19 L440.1 382.32 L440.6 382.45 L441.1 382.58 L441.6 382.71 L442.1 382.86 L442.6 383 L443.1 383.15 L443.6 383.3 L444.1 383.46 L444.6 383.62 L445.1 383.78 L445.6 383.95 L446.1 384.12 L446.6 384.29 L447.1 384.47 L447.6 384.65 L448.1 384.83 L448.6 385.01 L449.1 385.2 L449.6 385.4 L450.1 385.59 L450.6 385.79 L451.1 385.99 L451.6 386.19 L452.1 386.4 L452.6 386.61 L453.1 386.82 L453.6 387.03 L454.1 387.25 L454.6 387.47 L455.1 387.69 L455.6 387.91 L456.1 388.13 L456.6 388.36 L457.1 388.58 L457.6 388.81 L458.1 389.04 L458.6 389.28 L459.1 389.51 L459.6 389.74 L460.1 389.98 L460.6 390.22 L461.1 390.46 L461.6 390.7 L462.1 390.94 L462.6 391.18 L463.1 391.42 L463.6 391.66 L464.1 391.91 L464.6 392.15 L465.1 392.39 L465.6 392.64 L466.1 392.88 L466.6 393.12 L467.1 393.37 L467.6 393.61 L468.1 393.86 L468.6 394.1 L469.1 394.34 L469.6 394.58 L470.1 394.83 L470.6 395.07 L471.1 395.31 L471.6 395.55 L472.1 395.79 L472.6 396.02 L473.1 396.26 L473.6 396.49 L474.1 396.73 L474.6 396.96 L475.1 397.19 L475.6 397.42 L476.1 397.65 L476.6 397.87 L477.1 398.1 L477.6 398.32 L478.1 398.54 L478.6 398.76 L479.1 398.97 L479.6 399.18 L480.1 399.4 L480.6 399.6 L481.1 399.81 L481.6 400.01 L482.1 400.21 L482.6 400.41 L483.1 400.61 L483.6 400.8 L484.1 400.99 L484.6 401.17 L485.1 401.36 L485.6 401.54 L486.1 401.71 L486.6 401.89 L487.1 402.06 L487.6 402.22 L488.1 402.39 L488.6 402.55 L489.1 402.7 L489.6 402.85 L490.1 403 L490.6 403.15 L491.1 403.29 L491.6 403.42 L492.1 403.56 L492.6 403.69 L493.1 403.81 L493.6 403.93 L494.1 404.05 L494.6 404.16 L495.1 404.27 L495.6 404.37 L496.1 404.47 L496.6 404.56 L497.1 404.65 L497.6 404.74 L498.1 404.82 L498.6 404.9 L499.1 404.97 L499.6 405.04 L500.1 405.1 L500.6 405.16 L501.1 405.22 L501.6 405.27 L502.1 405.31 L502.6 405.35 L503.1 405.39 L503.6 405.42 L504.1 405.44 L504.6 405.46 L505.1 405.48 L505.6 405.49 L506.1 405.5 L506.6 405.5 L507.1 405.5 L507.6 405.49 L508.1 405.48 L508.6 405.46 L509.1 405.44 L509.6 405.41 L510.1 405.38 L510.6 405.35 L511.1 405.31 L511.6 405.26 L512.1 405.21 L512.6 405.16 L513.1 405.1 L513.6 405.03 L514.1 404.96 L514.6 404.89 L515.1 404.81 L515.6 404.73 L516.1 404.64 L516.6 404.55 L517.1 404.46 L517.6 404.36 L518.1 404.25 L518.6 404.15 L519.1 404.03 L519.6 403.92 L520.1 403.8 L520.6 403.67 L521.1 403.54 L521.6 403.41 L522.1 403.27 L522.6 403.13 L523.1 402.99 L523.6 402.84 L524.1 402.68 L524.6 402.53 L525.1 402.37 L525.6 402.2 L526.1 402.04 L526.6 401.87 L527.1 401.69 L527.6 401.52 L528.1 401.34 L528.6 401.15 L529.1 400.97 L529.6 400.78 L530.1 400.58 L530.6 400.39 L531.1 400.19 L531.6 399.99 L532.1 399.79 L532.6 399.58 L533.1 399.37 L533.6 399.16 L534.1 398.95 L534.6 398.73 L535.1 398.51 L535.6 398.29 L536.1 398.07 L536.6 397.85 L537.1 397.62 L537.6 397.39 L538.1 397.16 L538.6 396.93 L539.1 396.7 L539.6 396.47 L540.1 396.23 L540.6 396 L541.1 395.76 L541.6 395.52 L542.1 395.28 L542.6 395.04 L543.1 394.8 L543.6 394.56 L544.1 394.31 L544.6 394.07 L545.1 393.83 L545.6 393.58 L546.1 393.34 L546.6 393.1 L547.1 392.85 L547.6 392.61 L548.1 392.36 L548.6 392.12 L549.1 391.88 L549.6 391.63 L550.1 391.39 L550.6 391.15 L551.1 390.91 L551.6 390.67 L552.1 390.43 L552.6 390.19 L553.1 389.95 L553.6 389.72 L554.1 389.48 L554.6 389.25 L555.1 389.02 L555.6 388.79 L556.1 388.56 L556.6 388.33 L557.1 388.11 L557.6 387.88 L558.1 387.66 L558.6 387.44 L559.1 387.22 L559.6 387.01 L560.1 386.79 L560.6 386.58 L561.1 386.38 L561.6 386.17 L562.1 385.97 L562.6 385.77 L563.1 385.57 L563.6 385.37 L564.1 385.18 L564.6 384.99 L565.1 384.81 L565.6 384.62 L566.1 384.44 L566.6 384.27 L567.1 384.1 L567.6 383.93 L568.1 383.76 L568.6 383.6 L569.1 383.44 L569.6 383.28 L570.1 383.13 L570.6 382.98 L571.1 382.84 L571.6 382.7 L572.1 382.56 L572.6 382.43 L573.1 382.3 L573.6 382.18 L574.1 382.06 L574.6 381.94 L575.1 381.83 L575.6 381.72 L576.1 381.62 L576.6 381.52 L577.1 381.43 L577.6 381.34 L578.1 381.25 L578.6 381.17 L579.1 381.09 L579.6 381.02 L580.1 380.95 L580.6 380.89 L581.1 380.83 L581.6 380.78 L582.1 380.73 L582.6 380.69 L583.1 380.65 L583.6 380.61 L584.1 380.58 L584.6 380.56 L585.1 380.54 L585.6 380.52 L586.1 380.51 L586.6 380.5 L587.1 380.5 L587.6 380.5 L588.1 380.51 L588.6 380.52 L589.1 380.54 L589.6 380.56 L590.1 380.59 L590.6 380.62 L591.1 380.66 L591.6 380.7 L592.1 380.75 L592.6 380.8 L593.1 380.85 L593.6 380.91 L594.1 380.97 L594.6 381.04 L595.1 381.12 L595.6 381.19 L596.1 381.28 L596.6 381.36 L597.1 381.46 L597.6 381.55 L598.1 381.65 L598.6 381.76 L599.1 381.86 L599.6 381.98 L600.1 382.1 L600.6 382.22 L601.1 382.34 L601.6 382.47 L602.1 382.61 L602.6 382.74 L603.1 382.88 L603.6 383.03 L604.1 383.18 L604.6 383.33 L605.1 383.49 L605.6 383.65 L606.1 383.81 L606.6 383.98 L607.1 384.15 L607.6 384.32 L608.1 384.5 L608.6 384.68 L609.1 384.87 L609.6 385.05 L610.1 385.24 L610.6 385.43 L611.1 385.63 L611.6 385.83 L612.1 386.03 L612.6 386.23 L613.1 386.44 L613.6 386.65 L614.1 386.86 L614.6 387.07 L615.1 387.29 L615.6 387.51 L616.1 387.73 L616.6 387.95 L617.1 388.18 L617.6 388.4 L618.1 388.63 L618.6 388.86 L619.1 389.09 L619.6 389.32 L620.1 389.56 L620.6 389.79 L621.1 390.03 L621.6 390.27 L622.1 390.5 L622.6 390.74 L623.1 390.98 L623.6 391.23 L624.1 391.47 L624.6 391.71 L625.1 391.95 L625.6 392.2 L626.1 392.44 L626.6 392.68 L627.1 392.93 L627.6 393.17 L628.1 393.42 L628.6 393.66 L629.1 393.9 L629.6 394.15 L630.1 394.39 L630.6 394.63 L631.1 394.87 L631.6 395.12 L632.1 395.36 L632.6 395.59 L633.1 395.83 L633.6 396.07 L634.1 396.31 L634.6 396.54 L635.1 396.77 L635.6 397.01 L636.1 397.24 L636.6 397.47 L637.1 397.69 L637.6 397.92 L638.1 398.14 L638.6 398.36 L639.1 398.58 L639.6 398.8 L640.1 399.01 L640.6 399.23 L641.1 399.44 L641.6 399.65 L642.1 399.85 L642.6 400.05 L643.1 400.25 L643.6 400.45 L644.1 400.65 L644.6 400.84 L645.1 401.03 L645.6 401.21 L646.1 401.39 L646.6 401.57 L647.1 401.75 L647.6 401.92 L648.1 402.09 L648.6 402.26 L649.1 402.42 L649.6 402.58 L650.1 402.73 L650.6 402.88 L651.1 403.03 L651.6 403.18 L652.1 403.31 L652.6 403.45 L653.1 403.58 L653.6 403.71 L654.1 403.83 L654.6 403.95 L655.1 404.07 L655.6 404.18 L656.1 404.29 L656.6 404.39 L657.1 404.49 L657.6 404.58 L658.1 404.67 L658.6 404.76 L659.1 404.84 L659.6 404.91 L660.1 404.99 L660.6 405.05 L661.1 405.12 L661.6 405.17 L662.1 405.23 L662.6 405.27 L663.1 405.32 L663.6 405.36 L664.1 405.39 L664.6 405.42 L665.1 405.45 L665.6 405.47 L666.1 405.48 L666.6 405.49 L667.1 405.5 L667.6 405.5 L668.1 405.5 L668.6 405.49 L669.1 405.47 L669.6 405.46 L670.1 405.43 L670.6 405.41 L671.1 405.37 L671.6 405.34 L672.1 405.3 L672.6 405.25 L673.1 405.2 L673.6 405.14 L674.1 405.08 L674.6 405.02 L675.1 404.95 L675.6 404.88 L676.1 404.8 L676.6 404.71 L677.1 404.63 L677.6 404.53 L678.1 404.44 L678.6 404.34 L679.1 404.23 L679.6 404.12 L680.1 404.01 L680.6 403.89 L681.1 403.77 L681.6 403.65 L682.1 403.52 L682.6 403.38 L683.1 403.24 L683.6 403.1 L684.1 402.96 L684.6 402.81 L685.1 402.65 L685.6 402.5 L686.1 402.34 L686.6 402.17 L687.1 402 L687.6 401.83 L688.1 401.66 L688.6 401.48 L689.1 401.3 L689.5 401.15" fill="none" stroke="#111" stroke-width="2.8" stroke-linejoin="round"/>
<line x1="688" y1="6.3" x2="688" y2="203.9" stroke="#c8c8c8" stroke-width="1.2"/>
<line x1="47.6" y1="6.3" x2="690.2" y2="6.3" stroke="#2e2e2e" stroke-width="1.4"/>
<line x1="689.5" y1="5.6" x2="689.5" y2="204.6" stroke="#151515" stroke-width="1.4"/>
<line x1="47.6" y1="203.9" x2="689.5" y2="203.9" stroke="#5e5e5e" stroke-width="1.6"/>
<line x1="48.6" y1="5.6" x2="48.6" y2="204.7" stroke="#8e8e8e" stroke-width="2.6"/>
<line x1="688" y1="293.4" x2="688" y2="492.4" stroke="#c8c8c8" stroke-width="1.2"/>
<line x1="47.3" y1="293.4" x2="690.2" y2="293.4" stroke="#7a7a7a" stroke-width="1.8"/>
<line x1="689.5" y1="292.7" x2="689.5" y2="493.1" stroke="#151515" stroke-width="1.4"/>
<line x1="47.3" y1="492.4" x2="689.5" y2="492.4" stroke="#5e5e5e" stroke-width="1.6"/>
<line x1="48.3" y1="292.7" x2="48.3" y2="493.2" stroke="#727272" stroke-width="2.0"/>
<text transform="translate(44.4,226.6) scale(1.12,1)" text-anchor="middle" font-family="Liberation Sans, sans-serif" font-size="16.5" fill="#262626" >0.04</text>
<text transform="translate(124.58,226.6) scale(1.12,1)" text-anchor="middle" font-family="Liberation Sans, sans-serif" font-size="16.5" fill="#262626" >0.05</text>
<text transform="translate(204.75,226.6) scale(1.12,1)" text-anchor="middle" font-family="Liberation Sans, sans-serif" font-size="16.5" fill="#262626" >0.06</text>
<text transform="translate(284.93,226.6) scale(1.12,1)" text-anchor="middle" font-family="Liberation Sans, sans-serif" font-size="16.5" fill="#262626" >0.07</text>
<text transform="translate(365.1,226.6) scale(1.12,1)" text-anchor="middle" font-family="Liberation Sans, sans-serif" font-size="16.5" fill="#262626" >0.08</text>
<text transform="translate(445.28,226.6) scale(1.12,1)" text-anchor="middle" font-family="Liberation Sans, sans-serif" font-size="16.5" fill="#262626" >0.09</text>
<text transform="translate(525.45,226.6) scale(1.12,1)" text-anchor="middle" font-family="Liberation Sans, sans-serif" font-size="16.5" fill="#262626" >0.1</text>
<text transform="translate(605.62,226.6) scale(1.12,1)" text-anchor="middle" font-family="Liberation Sans, sans-serif" font-size="16.5" fill="#262626" >0.11</text>
<text transform="translate(685.8,226.6) scale(1.12,1)" text-anchor="middle" font-family="Liberation Sans, sans-serif" font-size="16.5" fill="#262626" >0.12</text>
<text transform="translate(44.2,516.6) scale(1.12,1)" text-anchor="middle" font-family="Liberation Sans, sans-serif" font-size="16.5" fill="#262626" >0.04</text>
<text transform="translate(124.4,516.6) scale(1.12,1)" text-anchor="middle" font-family="Liberation Sans, sans-serif" font-size="16.5" fill="#262626" >0.05</text>
<text transform="translate(204.6,516.6) scale(1.12,1)" text-anchor="middle" font-family="Liberation Sans, sans-serif" font-size="16.5" fill="#262626" >0.06</text>
<text transform="translate(284.8,516.6) scale(1.12,1)" text-anchor="middle" font-family="Liberation Sans, sans-serif" font-size="16.5" fill="#262626" >0.07</text>
<text transform="translate(365,516.6) scale(1.12,1)" text-anchor="middle" font-family="Liberation Sans, sans-serif" font-size="16.5" fill="#262626" >0.08</text>
<text transform="translate(445.2,516.6) scale(1.12,1)" text-anchor="middle" font-family="Liberation Sans, sans-serif" font-size="16.5" fill="#262626" >0.09</text>
<text transform="translate(525.4,516.6) scale(1.12,1)" text-anchor="middle" font-family="Liberation Sans, sans-serif" font-size="16.5" fill="#262626" >0.1</text>
<text transform="translate(605.6,516.6) scale(1.12,1)" text-anchor="middle" font-family="Liberation Sans, sans-serif" font-size="16.5" fill="#262626" >0.11</text>
<text transform="translate(685.8,516.6) scale(1.12,1)" text-anchor="middle" font-family="Liberation Sans, sans-serif" font-size="16.5" fill="#262626" >0.12</text>
<text transform="translate(19.0,203.6) rotate(-90)" font-family="Liberation Sans, sans-serif" font-size="17" textLength="136" lengthAdjust="spacingAndGlyphs" fill="#2a2a2a">Input waveforms</text>
<text transform="translate(18.9,498.3) rotate(-90)" font-family="Liberation Sans, sans-serif" font-size="17" textLength="156" lengthAdjust="spacingAndGlyphs" fill="#2a2a2a" xml:space="preserve">Output  waveforms</text>
<text transform="translate(354.2,267.7) scale(0.95,1)" text-anchor="start" font-family="Liberation Sans, sans-serif" font-size="24" fill="#111" >(</text>
<text transform="translate(363,267.7) scale(0.92,1)" text-anchor="start" font-family="Liberation Sans, sans-serif" font-size="24" fill="#111" >a</text>
<text transform="translate(378,267.7) scale(0.95,1)" text-anchor="start" font-family="Liberation Sans, sans-serif" font-size="24" fill="#111" >)</text>
<text transform="translate(352.6,558.7) scale(0.95,1)" text-anchor="start" font-family="Liberation Sans, sans-serif" font-size="24.5" fill="#111" >(</text>
<text transform="translate(358.5,558.7) scale(0.9,1)" text-anchor="start" font-family="Liberation Sans, sans-serif" font-size="24.5" fill="#111" >b</text>
<text transform="translate(372.4,558.7) scale(0.95,1)" text-anchor="start" font-family="Liberation Sans, sans-serif" font-size="24.5" fill="#111" >)</text>
<text x="591.7" y="257.2" font-family="Liberation Sans, sans-serif" font-size="14.5" textLength="33.6" lengthAdjust="spacingAndGlyphs" fill="#222">Time</text>
<text x="629.3" y="257.2" font-family="Liberation Sans, sans-serif" font-size="14.5" textLength="32.8" lengthAdjust="spacingAndGlyphs" fill="#222">[Sec]</text>
<text x="591.7" y="546.9" font-family="Liberation Sans, sans-serif" font-size="14.5" textLength="33.6" lengthAdjust="spacingAndGlyphs" fill="#222">Time</text>
<text x="629.3" y="546.9" font-family="Liberation Sans, sans-serif" font-size="14.5" textLength="32.8" lengthAdjust="spacingAndGlyphs" fill="#222">[Sec]</text>
<path d="M99 23.4 L100.5 21.8 L102 23.4 L103.5 21.8 L105 23.4 L106.5 21.8 L108 23.4 L109.5 21.8 L111 23.4 L112.5 21.8 L114 23.4 L115.5 21.8 L117 23.4 L118.5 21.8 L120 23.4 L121.5 21.8 L123 23.4 L124.5 21.8 L126 23.4 L127.5 21.8 L129 23.4 L130.5 21.8 L132 23.4 L133.5 21.8 L135 23.4 L136.5 21.8 L138 23.4 L139.5 21.8 L141 23.4 L142.5 21.8 L144 23.4 L145.5 21.8 L147 23.4 L148.5 21.8 L150 23.4 L151.5 21.8 L153 23.4 L154.5 21.8 L156 23.4 L157.5 21.8 L159 23.4" fill="none" stroke="#4e9e44" stroke-width="1.15"/>
<text transform="translate(98.4,20.7) scale(0.93,1)" text-anchor="start" font-family="Liberation Serif, serif" font-size="18.5" fill="#111" stroke="#111" stroke-width="0.5">V</text>
<text transform="translate(116.6,35.2) scale(1.25,1)" text-anchor="start" font-family="Liberation Serif, serif" font-size="12.5" fill="#2a3a2a" font-weight="bold">in</text>
<text x="140" y="20.3" font-family="Liberation Serif, serif" font-size="17.5" textLength="67" lengthAdjust="spacingAndGlyphs" fill="#111" stroke="#111" stroke-width="0.25">25 V/div</text>
<path d="M277 43.2 L278.5 41.6 L280 43.2 L281.5 41.6 L283 43.2 L284.5 41.6 L286 43.2 L287.5 41.6 L289 43.2 L290.5 41.6 L292 43.2 L293.5 41.6 L295 43.2 L296.5 41.6 L298 43.2 L299.5 41.6 L301 43.2 L302.5 41.6 L304 43.2 L305.5 41.6 L307 43.2 L308.5 41.6 L310 43.2 L311.5 41.6 L313 43.2 L314.5 41.6 L316 43.2 L317.5 41.6 L319 43.2 L320.5 41.6 L322 43.2 L323.5 41.6 L325 43.2 L326.5 41.6 L328 43.2 L329.5 41.6 L331 43.2 L332.5 41.6" fill="none" stroke="#4e9e44" stroke-width="1.15"/>
<path d="M284 56.6 L285.5 55.4 L287 56.6 L288.5 55.4 L290 56.6 L291.5 55.4 L293 56.6 L294.5 55.4 L296 56.6 L297.5 55.4 L299 56.6" fill="none" stroke="#4e9e44" stroke-width="1.15"/>
<line x1="287.5" y1="39.9" x2="306" y2="39.9" stroke="#444" stroke-width="1.0"/>
<text transform="translate(277,40.2) scale(1,1)" text-anchor="start" font-family="Liberation Serif, serif" font-size="17.5" fill="#111" stroke="#111" stroke-width="0.5">I</text>
<text transform="translate(284.4,54.6) scale(1.25,1)" text-anchor="start" font-family="Liberation Serif, serif" font-size="12.5" fill="#2a3a2a" font-weight="bold">in</text>
<text x="308" y="40.2" font-family="Liberation Serif, serif" font-size="17.5" textLength="71.5" lengthAdjust="spacingAndGlyphs" fill="#111" stroke="#111" stroke-width="0.25">0.5 A/div</text>
<line x1="96.6" y1="33.3" x2="82.77" y2="35.27" stroke="#111" stroke-width="1.8"/><path d="M74.8 36.4 L85.5 29.93 L82.77 35.27 L86.88 39.63 Z" fill="#111"/>
<line x1="272.9" y1="53.7" x2="243.09" y2="87.85" stroke="#1a1a1a" stroke-width="1.2"/><path d="M237.1 94.7 L242.19 81.88 L243.09 87.85 L249.12 87.93 Z" fill="#1a1a1a"/>
<text transform="translate(125.2,307.7) scale(1,1)" text-anchor="start" font-family="Liberation Serif, serif" font-size="18" fill="#111" stroke="#111" stroke-width="0.5">V</text>
<text x="152" y="308" font-family="Liberation Serif, serif" font-size="17.5" textLength="69.3" lengthAdjust="spacingAndGlyphs" fill="#111" stroke="#111" stroke-width="0.25">25 V/div</text>
<text transform="translate(142.7,321.4) scale(1.05,1)" text-anchor="start" font-family="Liberation Serif, serif" font-size="11.5" fill="#2f4a2f" stroke="#2f4a2f" stroke-width="0.25">o</text>
<line x1="143" y1="322.3" x2="148.5" y2="322.3" stroke="#58b048" stroke-width="1"/>
<text transform="translate(138.2,345.3) scale(1,1)" text-anchor="start" font-family="Liberation Serif, serif" font-size="18" fill="#111" stroke="#111" stroke-width="0.5">I</text>
<text x="157.4" y="345.5" font-family="Liberation Serif, serif" font-size="17.5" textLength="57.7" lengthAdjust="spacingAndGlyphs" fill="#111" stroke="#111" stroke-width="0.25">1 A/div</text>
<text transform="translate(146.7,358.9) scale(1.05,1)" text-anchor="start" font-family="Liberation Serif, serif" font-size="11.5" fill="#2f4a2f" stroke="#2f4a2f" stroke-width="0.25">o</text>
<line x1="147" y1="359.8" x2="152.5" y2="359.8" stroke="#58b048" stroke-width="1"/>
<line x1="121.6" y1="320.1" x2="92.92" y2="355.1" stroke="#111" stroke-width="1.5"/><path d="M87.6 361.6 L91.49 349.28 L92.92 355.1 L98.92 355.36 Z" fill="#111"/>
<line x1="133.7" y1="357.4" x2="101.3" y2="375.71" stroke="#111" stroke-width="1.4"/><path d="M94.6 379.5 L101.96 370.17 L101.3 375.71 L106.39 378 Z" fill="#111"/>
</svg></body></html>
